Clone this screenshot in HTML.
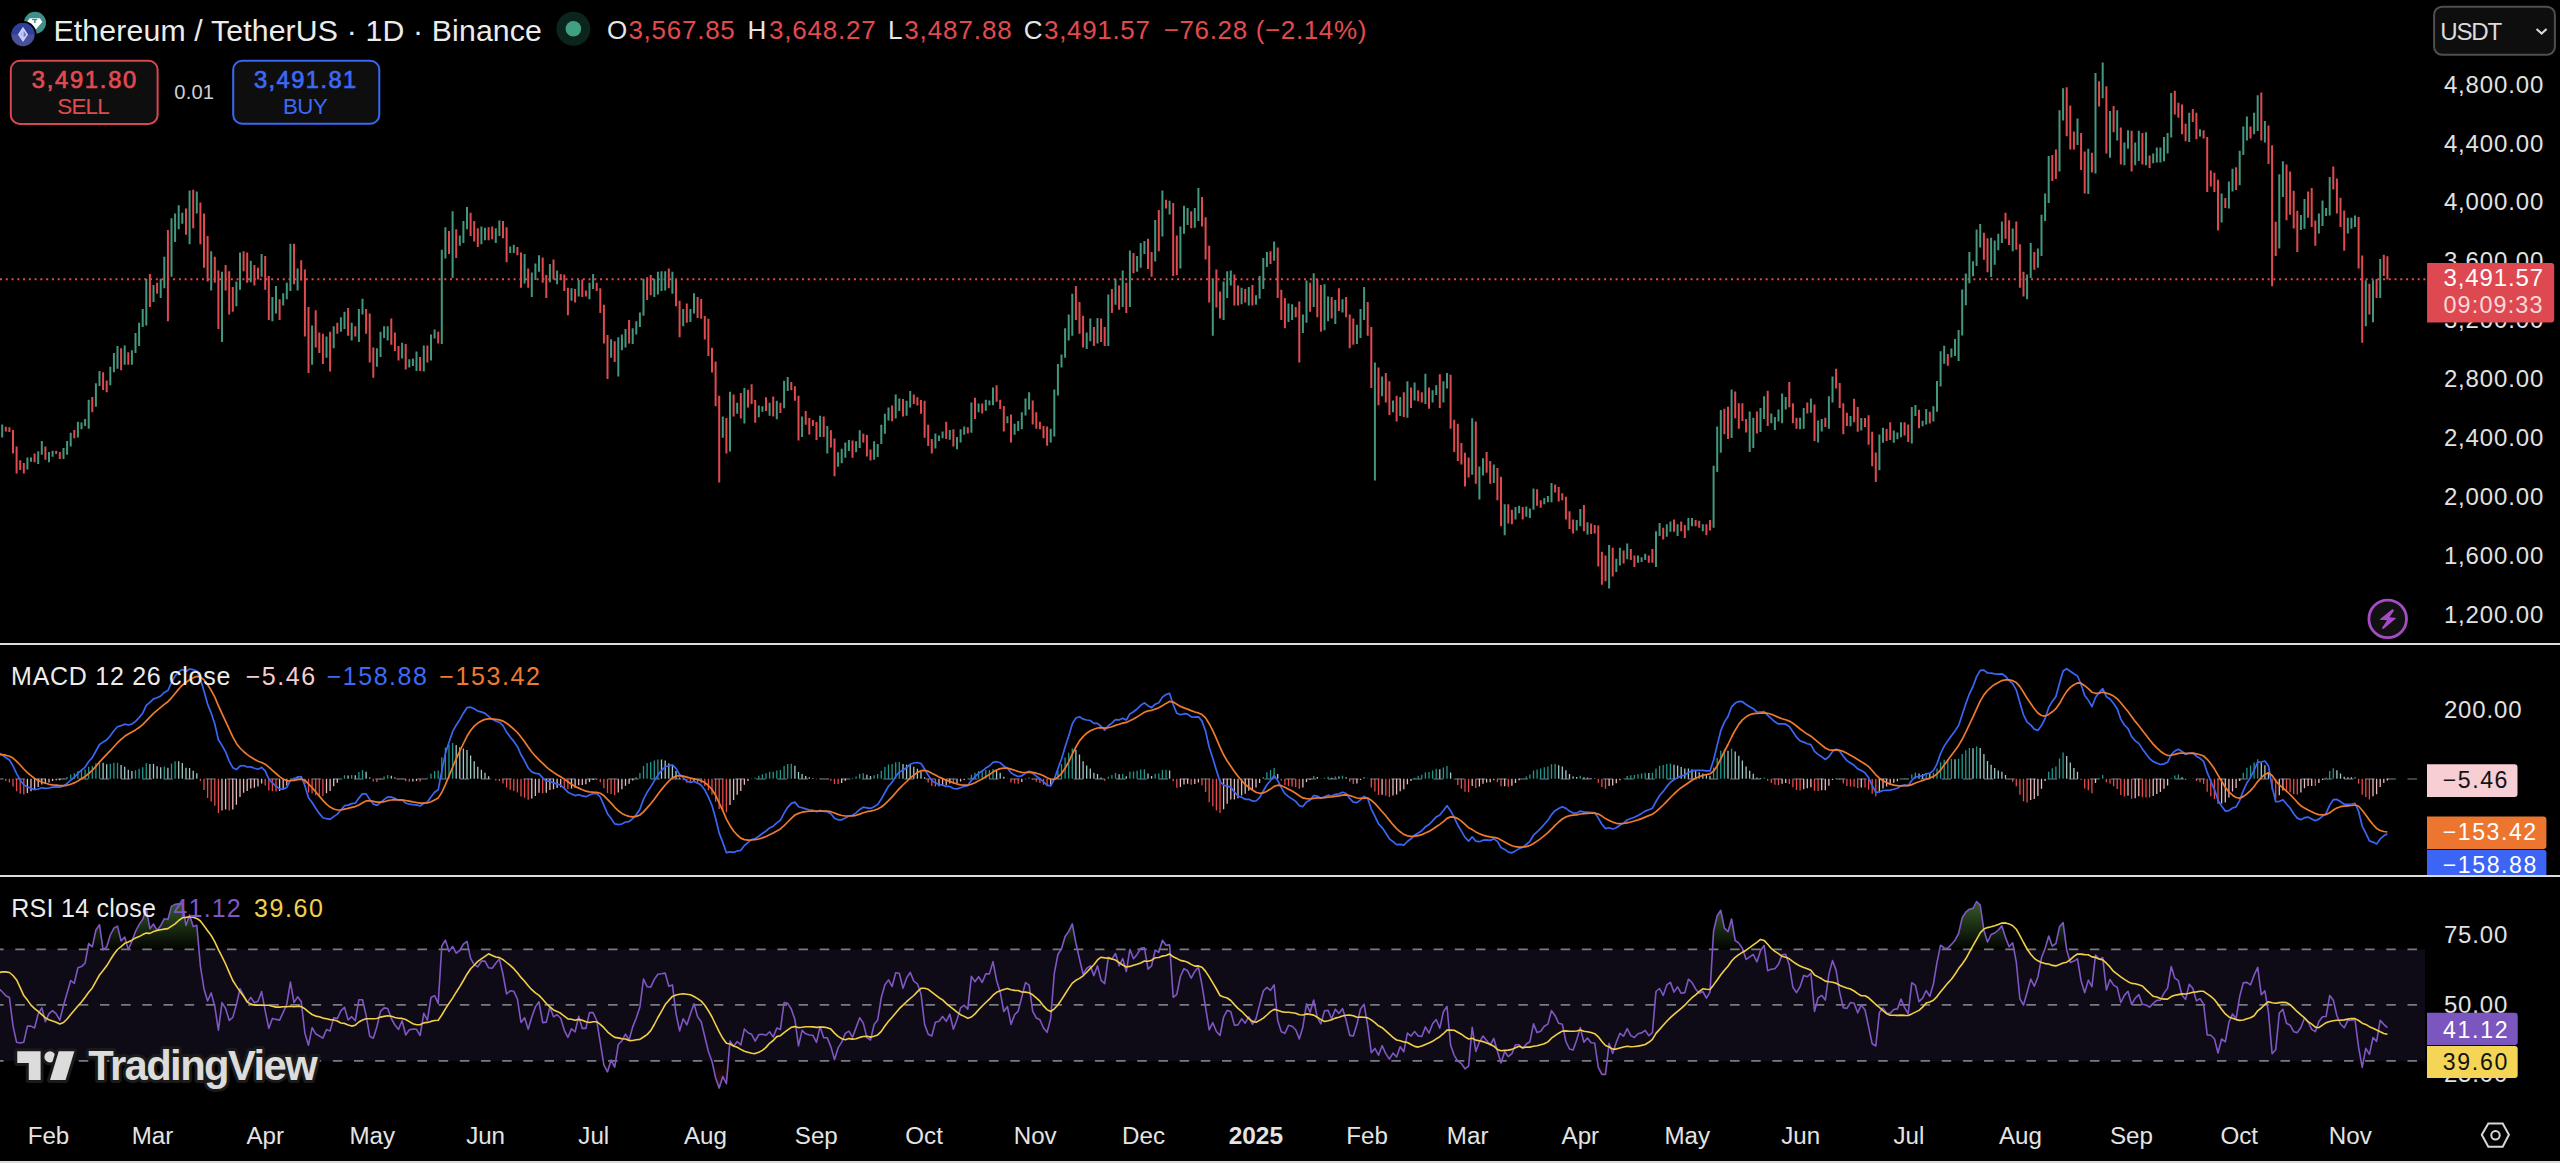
<!DOCTYPE html>
<html><head><meta charset="utf-8">
<style>
*{margin:0;padding:0}
html,body{width:2560px;height:1163px;background:#000;overflow:hidden}
svg{position:absolute;left:0;top:0;font-family:"Liberation Sans",sans-serif}
</style></head><body>
<svg width="2560" height="1163" viewBox="0 0 2560 1163">
<defs>
  <linearGradient id="gOB" x1="0" y1="865.5" x2="0" y2="949.4" gradientUnits="userSpaceOnUse">
    <stop offset="0" stop-color="#62a848" stop-opacity="1"/>
    <stop offset="1" stop-color="#5a9a40" stop-opacity="0.02"/>
  </linearGradient>
  <linearGradient id="gOS" x1="0" y1="1060.9" x2="0" y2="1144.3" gradientUnits="userSpaceOnUse">
    <stop offset="0" stop-color="#e04848" stop-opacity="0.02"/>
    <stop offset="1" stop-color="#e04848" stop-opacity="0.75"/>
  </linearGradient>
</defs>
  <!-- RSI band -->
  <rect x="0" y="949.4" width="2425" height="111.5" fill="#0e0a16"/>
  <path d="M2.2,949.1 L2.2,949.1 L5.8,949.1 L9.4,949.1 L13.0,949.1 L16.6,949.1 L20.2,949.1 L23.8,949.1 L27.4,949.1 L31.0,949.1 L34.6,949.1 L38.2,949.1 L41.8,949.1 L45.4,949.1 L49.0,949.1 L52.6,949.1 L56.2,949.1 L59.8,949.1 L63.5,949.1 L67.1,949.1 L70.7,949.1 L74.3,949.1 L77.9,949.1 L81.5,949.1 L85.1,949.1 L88.7,943.5 L92.3,946.8 L95.9,930.0 L99.5,924.7 L103.1,949.1 L106.7,946.9 L110.3,935.0 L113.9,928.1 L117.5,926.1 L121.1,940.9 L124.7,937.0 L128.3,949.1 L131.9,941.2 L135.5,931.5 L139.1,924.6 L142.7,919.4 L146.3,908.9 L149.9,928.8 L153.5,924.1 L157.1,930.4 L160.7,925.6 L164.3,918.7 L167.9,919.5 L171.5,906.1 L175.1,904.4 L178.7,903.9 L182.3,903.9 L186.0,925.4 L189.6,914.9 L193.2,926.5 L196.8,925.3 L200.4,949.1 L204.0,949.1 L207.6,949.1 L211.2,949.1 L214.8,949.1 L218.4,949.1 L222.0,949.1 L225.6,949.1 L229.2,949.1 L232.8,949.1 L236.4,949.1 L240.0,949.1 L243.6,949.1 L247.2,949.1 L250.8,949.1 L254.4,949.1 L258.0,949.1 L261.6,949.1 L265.2,949.1 L268.8,949.1 L272.4,949.1 L276.0,949.1 L279.6,949.1 L283.2,949.1 L286.8,949.1 L290.4,949.1 L294.0,949.1 L297.6,949.1 L301.2,949.1 L304.9,949.1 L308.5,949.1 L312.1,949.1 L315.7,949.1 L319.3,949.1 L322.9,949.1 L326.5,949.1 L330.1,949.1 L333.7,949.1 L337.3,949.1 L340.9,949.1 L344.5,949.1 L348.1,949.1 L351.7,949.1 L355.3,949.1 L358.9,949.1 L362.5,949.1 L366.1,949.1 L369.7,949.1 L373.3,949.1 L376.9,949.1 L380.5,949.1 L384.1,949.1 L387.7,949.1 L391.3,949.1 L394.9,949.1 L398.5,949.1 L402.1,949.1 L405.7,949.1 L409.3,949.1 L412.9,949.1 L416.5,949.1 L420.1,949.1 L423.8,949.1 L427.4,949.1 L431.0,949.1 L434.6,949.1 L438.2,949.1 L441.8,946.0 L445.4,940.2 L449.0,949.1 L452.6,946.5 L456.2,949.1 L459.8,949.1 L463.4,944.1 L467.0,941.4 L470.6,949.1 L474.2,949.1 L477.8,949.1 L481.4,949.1 L485.0,949.1 L488.6,949.1 L492.2,949.1 L495.8,949.1 L499.4,949.1 L503.0,949.1 L506.6,949.1 L510.2,949.1 L513.8,949.1 L517.4,949.1 L521.0,949.1 L524.6,949.1 L528.2,949.1 L531.8,949.1 L535.4,949.1 L539.0,949.1 L542.7,949.1 L546.3,949.1 L549.9,949.1 L553.5,949.1 L557.1,949.1 L560.7,949.1 L564.3,949.1 L567.9,949.1 L571.5,949.1 L575.1,949.1 L578.7,949.1 L582.3,949.1 L585.9,949.1 L589.5,949.1 L593.1,949.1 L596.7,949.1 L600.3,949.1 L603.9,949.1 L607.5,949.1 L611.1,949.1 L614.7,949.1 L618.3,949.1 L621.9,949.1 L625.5,949.1 L629.1,949.1 L632.7,949.1 L636.3,949.1 L639.9,949.1 L643.5,949.1 L647.1,949.1 L650.7,949.1 L654.3,949.1 L657.9,949.1 L661.5,949.1 L665.2,949.1 L668.8,949.1 L672.4,949.1 L676.0,949.1 L679.6,949.1 L683.2,949.1 L686.8,949.1 L690.4,949.1 L694.0,949.1 L697.6,949.1 L701.2,949.1 L704.8,949.1 L708.4,949.1 L712.0,949.1 L715.6,949.1 L719.2,949.1 L722.8,949.1 L726.4,949.1 L730.0,949.1 L733.6,949.1 L737.2,949.1 L740.8,949.1 L744.4,949.1 L748.0,949.1 L751.6,949.1 L755.2,949.1 L758.8,949.1 L762.4,949.1 L766.0,949.1 L769.6,949.1 L773.2,949.1 L776.8,949.1 L780.4,949.1 L784.1,949.1 L787.7,949.1 L791.3,949.1 L794.9,949.1 L798.5,949.1 L802.1,949.1 L805.7,949.1 L809.3,949.1 L812.9,949.1 L816.5,949.1 L820.1,949.1 L823.7,949.1 L827.3,949.1 L830.9,949.1 L834.5,949.1 L838.1,949.1 L841.7,949.1 L845.3,949.1 L848.9,949.1 L852.5,949.1 L856.1,949.1 L859.7,949.1 L863.3,949.1 L866.9,949.1 L870.5,949.1 L874.1,949.1 L877.7,949.1 L881.3,949.1 L884.9,949.1 L888.5,949.1 L892.1,949.1 L895.7,949.1 L899.3,949.1 L903.0,949.1 L906.6,949.1 L910.2,949.1 L913.8,949.1 L917.4,949.1 L921.0,949.1 L924.6,949.1 L928.2,949.1 L931.8,949.1 L935.4,949.1 L939.0,949.1 L942.6,949.1 L946.2,949.1 L949.8,949.1 L953.4,949.1 L957.0,949.1 L960.6,949.1 L964.2,949.1 L967.8,949.1 L971.4,949.1 L975.0,949.1 L978.6,949.1 L982.2,949.1 L985.8,949.1 L989.4,949.1 L993.0,949.1 L996.6,949.1 L1000.2,949.1 L1003.8,949.1 L1007.4,949.1 L1011.0,949.1 L1014.6,949.1 L1018.2,949.1 L1021.8,949.1 L1025.5,949.1 L1029.1,949.1 L1032.7,949.1 L1036.3,949.1 L1039.9,949.1 L1043.5,949.1 L1047.1,949.1 L1050.7,949.1 L1054.3,949.1 L1057.9,949.1 L1061.5,948.7 L1065.1,936.5 L1068.7,931.4 L1072.3,923.9 L1075.9,943.2 L1079.5,949.1 L1083.1,949.1 L1086.7,949.1 L1090.3,949.1 L1093.9,949.1 L1097.5,949.1 L1101.1,949.1 L1104.7,949.1 L1108.3,949.1 L1111.9,949.1 L1115.5,949.1 L1119.1,949.1 L1122.7,949.1 L1126.3,949.1 L1129.9,949.1 L1133.5,949.1 L1137.1,949.1 L1140.7,948.4 L1144.4,947.7 L1148.0,949.1 L1151.6,949.1 L1155.2,949.1 L1158.8,949.1 L1162.4,940.2 L1166.0,945.2 L1169.6,944.9 L1173.2,949.1 L1176.8,949.1 L1180.4,949.1 L1184.0,949.1 L1187.6,949.1 L1191.2,949.1 L1194.8,949.1 L1198.4,949.1 L1202.0,949.1 L1205.6,949.1 L1209.2,949.1 L1212.8,949.1 L1216.4,949.1 L1220.0,949.1 L1223.6,949.1 L1227.2,949.1 L1230.8,949.1 L1234.4,949.1 L1238.0,949.1 L1241.6,949.1 L1245.2,949.1 L1248.8,949.1 L1252.4,949.1 L1256.0,949.1 L1259.6,949.1 L1263.3,949.1 L1266.9,949.1 L1270.5,949.1 L1274.1,949.1 L1277.7,949.1 L1281.3,949.1 L1284.9,949.1 L1288.5,949.1 L1292.1,949.1 L1295.7,949.1 L1299.3,949.1 L1302.9,949.1 L1306.5,949.1 L1310.1,949.1 L1313.7,949.1 L1317.3,949.1 L1320.9,949.1 L1324.5,949.1 L1328.1,949.1 L1331.7,949.1 L1335.3,949.1 L1338.9,949.1 L1342.5,949.1 L1346.1,949.1 L1349.7,949.1 L1353.3,949.1 L1356.9,949.1 L1360.5,949.1 L1364.1,949.1 L1367.7,949.1 L1371.3,949.1 L1374.9,949.1 L1378.5,949.1 L1382.1,949.1 L1385.8,949.1 L1389.4,949.1 L1393.0,949.1 L1396.6,949.1 L1400.2,949.1 L1403.8,949.1 L1407.4,949.1 L1411.0,949.1 L1414.6,949.1 L1418.2,949.1 L1421.8,949.1 L1425.4,949.1 L1429.0,949.1 L1432.6,949.1 L1436.2,949.1 L1439.8,949.1 L1443.4,949.1 L1447.0,949.1 L1450.6,949.1 L1454.2,949.1 L1457.8,949.1 L1461.4,949.1 L1465.0,949.1 L1468.6,949.1 L1472.2,949.1 L1475.8,949.1 L1479.4,949.1 L1483.0,949.1 L1486.6,949.1 L1490.2,949.1 L1493.8,949.1 L1497.4,949.1 L1501.0,949.1 L1504.7,949.1 L1508.3,949.1 L1511.9,949.1 L1515.5,949.1 L1519.1,949.1 L1522.7,949.1 L1526.3,949.1 L1529.9,949.1 L1533.5,949.1 L1537.1,949.1 L1540.7,949.1 L1544.3,949.1 L1547.9,949.1 L1551.5,949.1 L1555.1,949.1 L1558.7,949.1 L1562.3,949.1 L1565.9,949.1 L1569.5,949.1 L1573.1,949.1 L1576.7,949.1 L1580.3,949.1 L1583.9,949.1 L1587.5,949.1 L1591.1,949.1 L1594.7,949.1 L1598.3,949.1 L1601.9,949.1 L1605.5,949.1 L1609.1,949.1 L1612.7,949.1 L1616.3,949.1 L1619.9,949.1 L1623.6,949.1 L1627.2,949.1 L1630.8,949.1 L1634.4,949.1 L1638.0,949.1 L1641.6,949.1 L1645.2,949.1 L1648.8,949.1 L1652.4,949.1 L1656.0,949.1 L1659.6,949.1 L1663.2,949.1 L1666.8,949.1 L1670.4,949.1 L1674.0,949.1 L1677.6,949.1 L1681.2,949.1 L1684.8,949.1 L1688.4,949.1 L1692.0,949.1 L1695.6,949.1 L1699.2,949.1 L1702.8,949.1 L1706.4,949.1 L1710.0,949.1 L1713.6,931.0 L1717.2,915.8 L1720.8,910.3 L1724.4,928.1 L1728.0,931.7 L1731.6,919.0 L1735.2,940.5 L1738.8,943.1 L1742.4,948.2 L1746.1,949.1 L1749.7,949.1 L1753.3,949.1 L1756.9,949.1 L1760.5,949.1 L1764.1,945.4 L1767.7,949.1 L1771.3,949.1 L1774.9,949.1 L1778.5,949.1 L1782.1,949.1 L1785.7,949.1 L1789.3,949.1 L1792.9,949.1 L1796.5,949.1 L1800.1,949.1 L1803.7,949.1 L1807.3,949.1 L1810.9,949.1 L1814.5,949.1 L1818.1,949.1 L1821.7,949.1 L1825.3,949.1 L1828.9,949.1 L1832.5,949.1 L1836.1,949.1 L1839.7,949.1 L1843.3,949.1 L1846.9,949.1 L1850.5,949.1 L1854.1,949.1 L1857.7,949.1 L1861.3,949.1 L1865.0,949.1 L1868.6,949.1 L1872.2,949.1 L1875.8,949.1 L1879.4,949.1 L1883.0,949.1 L1886.6,949.1 L1890.2,949.1 L1893.8,949.1 L1897.4,949.1 L1901.0,949.1 L1904.6,949.1 L1908.2,949.1 L1911.8,949.1 L1915.4,949.1 L1919.0,949.1 L1922.6,949.1 L1926.2,949.1 L1929.8,949.1 L1933.4,949.1 L1937.0,949.1 L1940.6,945.2 L1944.2,948.0 L1947.8,948.3 L1951.4,944.4 L1955.0,940.2 L1958.6,933.5 L1962.2,917.7 L1965.8,912.2 L1969.4,909.2 L1973.0,908.4 L1976.6,901.5 L1980.2,905.1 L1983.9,930.2 L1987.5,942.0 L1991.1,934.5 L1994.7,933.0 L1998.3,930.0 L2001.9,925.9 L2005.5,937.4 L2009.1,946.7 L2012.7,942.8 L2016.3,949.1 L2019.9,949.1 L2023.5,949.1 L2027.1,949.1 L2030.7,949.1 L2034.3,949.1 L2037.9,949.1 L2041.5,949.1 L2045.1,948.5 L2048.7,936.0 L2052.3,946.2 L2055.9,943.5 L2059.5,926.7 L2063.1,922.6 L2066.7,949.1 L2070.3,949.1 L2073.9,949.1 L2077.5,949.1 L2081.1,949.1 L2084.7,949.1 L2088.3,949.1 L2091.9,949.1 L2095.5,949.1 L2099.1,949.1 L2102.7,949.1 L2106.4,949.1 L2110.0,949.1 L2113.6,949.1 L2117.2,949.1 L2120.8,949.1 L2124.4,949.1 L2128.0,949.1 L2131.6,949.1 L2135.2,949.1 L2138.8,949.1 L2142.4,949.1 L2146.0,949.1 L2149.6,949.1 L2153.2,949.1 L2156.8,949.1 L2160.4,949.1 L2164.0,949.1 L2167.6,949.1 L2171.2,949.1 L2174.8,949.1 L2178.4,949.1 L2182.0,949.1 L2185.6,949.1 L2189.2,949.1 L2192.8,949.1 L2196.4,949.1 L2200.0,949.1 L2203.6,949.1 L2207.2,949.1 L2210.8,949.1 L2214.4,949.1 L2218.0,949.1 L2221.6,949.1 L2225.3,949.1 L2228.9,949.1 L2232.5,949.1 L2236.1,949.1 L2239.7,949.1 L2243.3,949.1 L2246.9,949.1 L2250.5,949.1 L2254.1,949.1 L2257.7,949.1 L2261.3,949.1 L2264.9,949.1 L2268.5,949.1 L2272.1,949.1 L2275.7,949.1 L2279.3,949.1 L2282.9,949.1 L2286.5,949.1 L2290.1,949.1 L2293.7,949.1 L2297.3,949.1 L2300.9,949.1 L2304.5,949.1 L2308.1,949.1 L2311.7,949.1 L2315.3,949.1 L2318.9,949.1 L2322.5,949.1 L2326.1,949.1 L2329.7,949.1 L2333.3,949.1 L2336.9,949.1 L2340.5,949.1 L2344.2,949.1 L2347.8,949.1 L2351.4,949.1 L2355.0,949.1 L2358.6,949.1 L2362.2,949.1 L2365.8,949.1 L2369.4,949.1 L2373.0,949.1 L2376.6,949.1 L2380.2,949.1 L2383.8,949.1 L2387.4,949.1 L2387.4,949.1 Z" fill="url(#gOB)"/><path d="M2.2,1060.7 L2.2,1060.7 L5.8,1060.7 L9.4,1060.7 L13.0,1060.7 L16.6,1060.7 L20.2,1060.7 L23.8,1060.7 L27.4,1060.7 L31.0,1060.7 L34.6,1060.7 L38.2,1060.7 L41.8,1060.7 L45.4,1060.7 L49.0,1060.7 L52.6,1060.7 L56.2,1060.7 L59.8,1060.7 L63.5,1060.7 L67.1,1060.7 L70.7,1060.7 L74.3,1060.7 L77.9,1060.7 L81.5,1060.7 L85.1,1060.7 L88.7,1060.7 L92.3,1060.7 L95.9,1060.7 L99.5,1060.7 L103.1,1060.7 L106.7,1060.7 L110.3,1060.7 L113.9,1060.7 L117.5,1060.7 L121.1,1060.7 L124.7,1060.7 L128.3,1060.7 L131.9,1060.7 L135.5,1060.7 L139.1,1060.7 L142.7,1060.7 L146.3,1060.7 L149.9,1060.7 L153.5,1060.7 L157.1,1060.7 L160.7,1060.7 L164.3,1060.7 L167.9,1060.7 L171.5,1060.7 L175.1,1060.7 L178.7,1060.7 L182.3,1060.7 L186.0,1060.7 L189.6,1060.7 L193.2,1060.7 L196.8,1060.7 L200.4,1060.7 L204.0,1060.7 L207.6,1060.7 L211.2,1060.7 L214.8,1060.7 L218.4,1060.7 L222.0,1060.7 L225.6,1060.7 L229.2,1060.7 L232.8,1060.7 L236.4,1060.7 L240.0,1060.7 L243.6,1060.7 L247.2,1060.7 L250.8,1060.7 L254.4,1060.7 L258.0,1060.7 L261.6,1060.7 L265.2,1060.7 L268.8,1060.7 L272.4,1060.7 L276.0,1060.7 L279.6,1060.7 L283.2,1060.7 L286.8,1060.7 L290.4,1060.7 L294.0,1060.7 L297.6,1060.7 L301.2,1060.7 L304.9,1060.7 L308.5,1060.7 L312.1,1060.7 L315.7,1060.7 L319.3,1060.7 L322.9,1060.7 L326.5,1060.7 L330.1,1060.7 L333.7,1060.7 L337.3,1060.7 L340.9,1060.7 L344.5,1060.7 L348.1,1060.7 L351.7,1060.7 L355.3,1060.7 L358.9,1060.7 L362.5,1060.7 L366.1,1060.7 L369.7,1060.7 L373.3,1060.7 L376.9,1060.7 L380.5,1060.7 L384.1,1060.7 L387.7,1060.7 L391.3,1060.7 L394.9,1060.7 L398.5,1060.7 L402.1,1060.7 L405.7,1060.7 L409.3,1060.7 L412.9,1060.7 L416.5,1060.7 L420.1,1060.7 L423.8,1060.7 L427.4,1060.7 L431.0,1060.7 L434.6,1060.7 L438.2,1060.7 L441.8,1060.7 L445.4,1060.7 L449.0,1060.7 L452.6,1060.7 L456.2,1060.7 L459.8,1060.7 L463.4,1060.7 L467.0,1060.7 L470.6,1060.7 L474.2,1060.7 L477.8,1060.7 L481.4,1060.7 L485.0,1060.7 L488.6,1060.7 L492.2,1060.7 L495.8,1060.7 L499.4,1060.7 L503.0,1060.7 L506.6,1060.7 L510.2,1060.7 L513.8,1060.7 L517.4,1060.7 L521.0,1060.7 L524.6,1060.7 L528.2,1060.7 L531.8,1060.7 L535.4,1060.7 L539.0,1060.7 L542.7,1060.7 L546.3,1060.7 L549.9,1060.7 L553.5,1060.7 L557.1,1060.7 L560.7,1060.7 L564.3,1060.7 L567.9,1060.7 L571.5,1060.7 L575.1,1060.7 L578.7,1060.7 L582.3,1060.7 L585.9,1060.7 L589.5,1060.7 L593.1,1060.7 L596.7,1060.7 L600.3,1060.7 L603.9,1065.2 L607.5,1071.9 L611.1,1060.7 L614.7,1067.2 L618.3,1060.7 L621.9,1060.7 L625.5,1060.7 L629.1,1060.7 L632.7,1060.7 L636.3,1060.7 L639.9,1060.7 L643.5,1060.7 L647.1,1060.7 L650.7,1060.7 L654.3,1060.7 L657.9,1060.7 L661.5,1060.7 L665.2,1060.7 L668.8,1060.7 L672.4,1060.7 L676.0,1060.7 L679.6,1060.7 L683.2,1060.7 L686.8,1060.7 L690.4,1060.7 L694.0,1060.7 L697.6,1060.7 L701.2,1060.7 L704.8,1060.7 L708.4,1060.7 L712.0,1061.5 L715.6,1077.9 L719.2,1088.1 L722.8,1076.5 L726.4,1083.7 L730.0,1060.7 L733.6,1060.7 L737.2,1060.7 L740.8,1060.7 L744.4,1060.7 L748.0,1060.7 L751.6,1060.7 L755.2,1060.7 L758.8,1060.7 L762.4,1060.7 L766.0,1060.7 L769.6,1060.7 L773.2,1060.7 L776.8,1060.7 L780.4,1060.7 L784.1,1060.7 L787.7,1060.7 L791.3,1060.7 L794.9,1060.7 L798.5,1060.7 L802.1,1060.7 L805.7,1060.7 L809.3,1060.7 L812.9,1060.7 L816.5,1060.7 L820.1,1060.7 L823.7,1060.7 L827.3,1060.7 L830.9,1060.7 L834.5,1060.7 L838.1,1060.7 L841.7,1060.7 L845.3,1060.7 L848.9,1060.7 L852.5,1060.7 L856.1,1060.7 L859.7,1060.7 L863.3,1060.7 L866.9,1060.7 L870.5,1060.7 L874.1,1060.7 L877.7,1060.7 L881.3,1060.7 L884.9,1060.7 L888.5,1060.7 L892.1,1060.7 L895.7,1060.7 L899.3,1060.7 L903.0,1060.7 L906.6,1060.7 L910.2,1060.7 L913.8,1060.7 L917.4,1060.7 L921.0,1060.7 L924.6,1060.7 L928.2,1060.7 L931.8,1060.7 L935.4,1060.7 L939.0,1060.7 L942.6,1060.7 L946.2,1060.7 L949.8,1060.7 L953.4,1060.7 L957.0,1060.7 L960.6,1060.7 L964.2,1060.7 L967.8,1060.7 L971.4,1060.7 L975.0,1060.7 L978.6,1060.7 L982.2,1060.7 L985.8,1060.7 L989.4,1060.7 L993.0,1060.7 L996.6,1060.7 L1000.2,1060.7 L1003.8,1060.7 L1007.4,1060.7 L1011.0,1060.7 L1014.6,1060.7 L1018.2,1060.7 L1021.8,1060.7 L1025.5,1060.7 L1029.1,1060.7 L1032.7,1060.7 L1036.3,1060.7 L1039.9,1060.7 L1043.5,1060.7 L1047.1,1060.7 L1050.7,1060.7 L1054.3,1060.7 L1057.9,1060.7 L1061.5,1060.7 L1065.1,1060.7 L1068.7,1060.7 L1072.3,1060.7 L1075.9,1060.7 L1079.5,1060.7 L1083.1,1060.7 L1086.7,1060.7 L1090.3,1060.7 L1093.9,1060.7 L1097.5,1060.7 L1101.1,1060.7 L1104.7,1060.7 L1108.3,1060.7 L1111.9,1060.7 L1115.5,1060.7 L1119.1,1060.7 L1122.7,1060.7 L1126.3,1060.7 L1129.9,1060.7 L1133.5,1060.7 L1137.1,1060.7 L1140.7,1060.7 L1144.4,1060.7 L1148.0,1060.7 L1151.6,1060.7 L1155.2,1060.7 L1158.8,1060.7 L1162.4,1060.7 L1166.0,1060.7 L1169.6,1060.7 L1173.2,1060.7 L1176.8,1060.7 L1180.4,1060.7 L1184.0,1060.7 L1187.6,1060.7 L1191.2,1060.7 L1194.8,1060.7 L1198.4,1060.7 L1202.0,1060.7 L1205.6,1060.7 L1209.2,1060.7 L1212.8,1060.7 L1216.4,1060.7 L1220.0,1060.7 L1223.6,1060.7 L1227.2,1060.7 L1230.8,1060.7 L1234.4,1060.7 L1238.0,1060.7 L1241.6,1060.7 L1245.2,1060.7 L1248.8,1060.7 L1252.4,1060.7 L1256.0,1060.7 L1259.6,1060.7 L1263.3,1060.7 L1266.9,1060.7 L1270.5,1060.7 L1274.1,1060.7 L1277.7,1060.7 L1281.3,1060.7 L1284.9,1060.7 L1288.5,1060.7 L1292.1,1060.7 L1295.7,1060.7 L1299.3,1060.7 L1302.9,1060.7 L1306.5,1060.7 L1310.1,1060.7 L1313.7,1060.7 L1317.3,1060.7 L1320.9,1060.7 L1324.5,1060.7 L1328.1,1060.7 L1331.7,1060.7 L1335.3,1060.7 L1338.9,1060.7 L1342.5,1060.7 L1346.1,1060.7 L1349.7,1060.7 L1353.3,1060.7 L1356.9,1060.7 L1360.5,1060.7 L1364.1,1060.7 L1367.7,1060.7 L1371.3,1060.7 L1374.9,1060.7 L1378.5,1060.7 L1382.1,1060.7 L1385.8,1060.7 L1389.4,1060.7 L1393.0,1060.7 L1396.6,1060.7 L1400.2,1060.7 L1403.8,1060.7 L1407.4,1060.7 L1411.0,1060.7 L1414.6,1060.7 L1418.2,1060.7 L1421.8,1060.7 L1425.4,1060.7 L1429.0,1060.7 L1432.6,1060.7 L1436.2,1060.7 L1439.8,1060.7 L1443.4,1060.7 L1447.0,1060.7 L1450.6,1060.7 L1454.2,1060.7 L1457.8,1061.1 L1461.4,1063.6 L1465.0,1068.8 L1468.6,1066.1 L1472.2,1060.7 L1475.8,1060.7 L1479.4,1060.7 L1483.0,1060.7 L1486.6,1060.7 L1490.2,1060.7 L1493.8,1060.7 L1497.4,1060.7 L1501.0,1062.9 L1504.7,1060.7 L1508.3,1060.7 L1511.9,1060.7 L1515.5,1060.7 L1519.1,1060.7 L1522.7,1060.7 L1526.3,1060.7 L1529.9,1060.7 L1533.5,1060.7 L1537.1,1060.7 L1540.7,1060.7 L1544.3,1060.7 L1547.9,1060.7 L1551.5,1060.7 L1555.1,1060.7 L1558.7,1060.7 L1562.3,1060.7 L1565.9,1060.7 L1569.5,1060.7 L1573.1,1060.7 L1576.7,1060.7 L1580.3,1060.7 L1583.9,1060.7 L1587.5,1060.7 L1591.1,1060.7 L1594.7,1060.7 L1598.3,1067.4 L1601.9,1074.4 L1605.5,1074.4 L1609.1,1060.7 L1612.7,1060.7 L1616.3,1060.7 L1619.9,1060.7 L1623.6,1060.7 L1627.2,1060.7 L1630.8,1060.7 L1634.4,1060.7 L1638.0,1060.7 L1641.6,1060.7 L1645.2,1060.7 L1648.8,1060.7 L1652.4,1060.7 L1656.0,1060.7 L1659.6,1060.7 L1663.2,1060.7 L1666.8,1060.7 L1670.4,1060.7 L1674.0,1060.7 L1677.6,1060.7 L1681.2,1060.7 L1684.8,1060.7 L1688.4,1060.7 L1692.0,1060.7 L1695.6,1060.7 L1699.2,1060.7 L1702.8,1060.7 L1706.4,1060.7 L1710.0,1060.7 L1713.6,1060.7 L1717.2,1060.7 L1720.8,1060.7 L1724.4,1060.7 L1728.0,1060.7 L1731.6,1060.7 L1735.2,1060.7 L1738.8,1060.7 L1742.4,1060.7 L1746.1,1060.7 L1749.7,1060.7 L1753.3,1060.7 L1756.9,1060.7 L1760.5,1060.7 L1764.1,1060.7 L1767.7,1060.7 L1771.3,1060.7 L1774.9,1060.7 L1778.5,1060.7 L1782.1,1060.7 L1785.7,1060.7 L1789.3,1060.7 L1792.9,1060.7 L1796.5,1060.7 L1800.1,1060.7 L1803.7,1060.7 L1807.3,1060.7 L1810.9,1060.7 L1814.5,1060.7 L1818.1,1060.7 L1821.7,1060.7 L1825.3,1060.7 L1828.9,1060.7 L1832.5,1060.7 L1836.1,1060.7 L1839.7,1060.7 L1843.3,1060.7 L1846.9,1060.7 L1850.5,1060.7 L1854.1,1060.7 L1857.7,1060.7 L1861.3,1060.7 L1865.0,1060.7 L1868.6,1060.7 L1872.2,1060.7 L1875.8,1060.7 L1879.4,1060.7 L1883.0,1060.7 L1886.6,1060.7 L1890.2,1060.7 L1893.8,1060.7 L1897.4,1060.7 L1901.0,1060.7 L1904.6,1060.7 L1908.2,1060.7 L1911.8,1060.7 L1915.4,1060.7 L1919.0,1060.7 L1922.6,1060.7 L1926.2,1060.7 L1929.8,1060.7 L1933.4,1060.7 L1937.0,1060.7 L1940.6,1060.7 L1944.2,1060.7 L1947.8,1060.7 L1951.4,1060.7 L1955.0,1060.7 L1958.6,1060.7 L1962.2,1060.7 L1965.8,1060.7 L1969.4,1060.7 L1973.0,1060.7 L1976.6,1060.7 L1980.2,1060.7 L1983.9,1060.7 L1987.5,1060.7 L1991.1,1060.7 L1994.7,1060.7 L1998.3,1060.7 L2001.9,1060.7 L2005.5,1060.7 L2009.1,1060.7 L2012.7,1060.7 L2016.3,1060.7 L2019.9,1060.7 L2023.5,1060.7 L2027.1,1060.7 L2030.7,1060.7 L2034.3,1060.7 L2037.9,1060.7 L2041.5,1060.7 L2045.1,1060.7 L2048.7,1060.7 L2052.3,1060.7 L2055.9,1060.7 L2059.5,1060.7 L2063.1,1060.7 L2066.7,1060.7 L2070.3,1060.7 L2073.9,1060.7 L2077.5,1060.7 L2081.1,1060.7 L2084.7,1060.7 L2088.3,1060.7 L2091.9,1060.7 L2095.5,1060.7 L2099.1,1060.7 L2102.7,1060.7 L2106.4,1060.7 L2110.0,1060.7 L2113.6,1060.7 L2117.2,1060.7 L2120.8,1060.7 L2124.4,1060.7 L2128.0,1060.7 L2131.6,1060.7 L2135.2,1060.7 L2138.8,1060.7 L2142.4,1060.7 L2146.0,1060.7 L2149.6,1060.7 L2153.2,1060.7 L2156.8,1060.7 L2160.4,1060.7 L2164.0,1060.7 L2167.6,1060.7 L2171.2,1060.7 L2174.8,1060.7 L2178.4,1060.7 L2182.0,1060.7 L2185.6,1060.7 L2189.2,1060.7 L2192.8,1060.7 L2196.4,1060.7 L2200.0,1060.7 L2203.6,1060.7 L2207.2,1060.7 L2210.8,1060.7 L2214.4,1060.7 L2218.0,1060.7 L2221.6,1060.7 L2225.3,1060.7 L2228.9,1060.7 L2232.5,1060.7 L2236.1,1060.7 L2239.7,1060.7 L2243.3,1060.7 L2246.9,1060.7 L2250.5,1060.7 L2254.1,1060.7 L2257.7,1060.7 L2261.3,1060.7 L2264.9,1060.7 L2268.5,1060.7 L2272.1,1060.7 L2275.7,1060.7 L2279.3,1060.7 L2282.9,1060.7 L2286.5,1060.7 L2290.1,1060.7 L2293.7,1060.7 L2297.3,1060.7 L2300.9,1060.7 L2304.5,1060.7 L2308.1,1060.7 L2311.7,1060.7 L2315.3,1060.7 L2318.9,1060.7 L2322.5,1060.7 L2326.1,1060.7 L2329.7,1060.7 L2333.3,1060.7 L2336.9,1060.7 L2340.5,1060.7 L2344.2,1060.7 L2347.8,1060.7 L2351.4,1060.7 L2355.0,1060.7 L2358.6,1060.7 L2362.2,1067.4 L2365.8,1060.7 L2369.4,1060.7 L2373.0,1060.7 L2376.6,1060.7 L2380.2,1060.7 L2383.8,1060.7 L2387.4,1060.7 L2387.4,1060.7 Z" fill="url(#gOS)"/>
  <g stroke="#7a7a82" stroke-width="1.8" stroke-dasharray="9.5 11.67" stroke-dashoffset="5.9">
  <line x1="0" y1="949.4" x2="2425" y2="949.4"/>
  <line x1="0" y1="1004.9" x2="2425" y2="1004.9"/>
  <line x1="0" y1="1060.9" x2="2425" y2="1060.9"/>
  </g>
  <!-- price line -->
  <line x1="0" y1="279.2" x2="2427" y2="279.2" stroke="#e4494f" stroke-width="2" stroke-dasharray="2 3.77"/>
  <path d="M2.2 424.5V437.5M27.4 457.6V469.4M31.0 457.6V461.7M38.2 451.2V463.9M41.8 441.1V454.8M49.0 452.1V462.2M52.6 450.7V456.7M63.5 447.9V458.9M67.1 441.1V454.8M70.7 432.8V446.6M77.9 421.8V437.5M81.5 422.6V429.2M85.1 419.0V425.9M88.7 399.8V428.7M95.9 383.3V406.7M99.5 370.9V386.0M110.3 366.8V385.2M113.9 353.0V372.3M117.5 346.1V368.7M124.7 345.6V364.8M131.9 350.2V364.8M135.5 332.9V353.0M139.1 322.7V346.1M142.7 309.0V326.9M146.3 278.7V325.5M153.5 285.0V302.1M160.7 278.7V298.0M164.3 256.7V288.3M171.5 218.2V276.8M175.1 213.5V242.1M178.7 205.2V229.2M182.3 212.7V223.7M189.6 190.6V244.3M196.8 191.5V213.5M211.2 251.2V290.5M222.0 271.8V342.0M236.4 281.4V306.2M240.0 252.6V289.7M250.8 260.8V282.3M261.6 253.9V276.8M272.4 297.1V321.3M276.0 286.1V313.6M283.2 293.3V305.4M286.8 282.8V299.3M290.4 243.7V291.1M297.6 268.5V290.5M312.1 325.5V364.8M326.5 336.5V357.7M333.7 326.3V348.3M340.9 317.2V331.8M344.5 311.7V329.1M351.7 322.7V340.6M358.9 309.0V342.0M362.5 298.8V314.5M376.9 348.3V366.8M380.5 331.8V357.1M384.1 326.3V337.9M387.7 326.3V340.6M402.1 342.8V358.5M409.3 359.3V367.6M412.9 358.5V365.9M416.5 351.6V370.9M423.8 345.6V371.4M431.0 334.6V360.4M434.6 329.6V338.4M441.8 249.8V343.9M445.4 227.2V258.6M452.6 211.3V277.9M459.8 235.5V245.7M463.4 220.9V242.9M467.0 207.1V229.2M481.4 226.4V244.3M485.0 227.8V240.2M495.8 228.3V242.9M499.4 220.4V236.0M510.2 246.5V253.1M513.8 244.8V253.1M524.6 253.9V283.4M531.8 272.4V297.1M535.4 263.6V280.1M539.0 255.3V271.8M549.9 264.1V282.3M557.1 270.4V284.2M571.5 288.3V300.7M578.7 280.1V296.6M589.5 282.8V299.3M593.1 274.0V288.9M611.1 339.2V357.7M618.3 337.3V376.4M621.9 334.6V350.2M625.5 329.1V347.5M632.7 328.2V343.9M636.3 321.3V334.6M639.9 312.5V326.9M643.5 278.7V315.8M654.3 278.7V297.1M657.9 271.8V294.4M661.5 271.3V291.1M665.2 271.3V290.5M672.4 271.8V293.8M683.2 309.0V326.3M690.4 309.0V321.9M694.0 293.3V313.6M722.8 416.5V437.7M730.0 391.7V451.4M737.2 402.7V413.7M744.4 388.1V423.4M758.8 405.5V417.3M762.4 406.3V411.8M769.6 402.7V415.7M776.8 400.8V419.2M784.1 380.7V408.2M787.7 377.1V390.9M802.1 416.5V437.1M820.1 415.7V437.1M827.3 426.1V453.6M838.1 452.3V466.8M841.7 448.7V463.3M845.3 442.6V457.8M848.9 439.9V450.9M856.1 441.2V452.3M859.7 430.2V448.1M874.1 441.2V459.7M877.7 444.0V456.9M881.3 424.7V444.0M884.9 413.7V433.8M888.5 407.4V420.6M895.7 394.5V418.4M899.3 398.6V411.0M906.6 400.8V415.7M910.2 390.9V407.4M935.4 433.6V448.5M939.0 435.5V441.1M942.6 431.4V438.3M949.8 430.0V439.7M957.0 436.9V449.3M960.6 429.2V442.4M964.2 426.5V434.7M971.4 402.5V432.8M978.6 403.4V412.2M985.8 399.8V410.8M989.4 400.6V405.3M993.0 387.4V405.3M1007.4 416.3V423.2M1014.6 423.7V434.7M1018.2 421.0V430.9M1021.8 412.2V429.2M1025.5 398.4V415.5M1029.1 392.3V409.4M1050.7 428.7V442.4M1054.3 389.6V436.4M1057.9 364.0V395.6M1061.5 354.4V367.6M1065.1 328.2V357.7M1068.7 314.5V340.6M1072.3 293.8V335.7M1086.7 332.4V348.9M1090.3 318.6V341.2M1097.5 318.0V343.4M1108.3 294.4V346.1M1115.5 278.7V304.8M1122.7 270.4V307.0M1129.9 250.4V307.0M1137.1 255.9V271.8M1140.7 242.9V267.7M1144.4 241.0V253.9M1155.2 220.1V261.4M1162.4 190.6V236.6M1169.6 200.8V214.6M1180.4 226.4V268.5M1184.0 205.8V233.8M1187.6 208.0V225.0M1194.8 208.0V227.8M1198.4 187.9V220.9M1212.8 278.7V335.7M1223.6 281.4V320.0M1227.2 271.3V298.0M1230.8 270.4V285.6M1241.6 287.8V304.3M1248.8 287.0V305.4M1256.0 295.2V304.8M1259.6 275.9V298.8M1263.3 258.1V288.9M1266.9 252.0V266.9M1274.1 241.5V260.8M1288.5 303.5V321.9M1292.1 304.3V320.0M1302.9 314.5V332.9M1306.5 280.6V322.7M1313.7 273.2V307.0M1324.5 284.2V330.2M1328.1 296.6V321.3M1335.3 299.9V324.1M1342.5 299.3V312.5M1356.9 324.7V343.9M1360.5 309.0V337.9M1364.1 287.0V320.0M1374.9 362.6V480.4M1382.1 376.4V396.2M1393.0 400.4V412.3M1400.2 396.9V416.1M1407.4 381.2V417.8M1414.6 382.6V400.4M1425.4 373.7V404.0M1432.6 390.3V402.4M1436.2 385.3V394.9M1443.4 381.2V402.4M1447.0 372.9V388.6M1472.2 418.3V474.7M1479.4 466.5V499.5M1483.0 458.2V475.6M1493.8 464.6V483.0M1504.7 504.2V535.3M1515.5 506.9V519.6M1519.1 505.8V513.3M1526.3 506.4V516.8M1529.9 508.6V517.9M1533.5 488.5V509.7M1544.3 498.1V504.2M1547.9 495.9V502.3M1551.5 483.0V502.3M1576.7 520.1V530.6M1580.3 509.1V526.2M1587.5 522.3V534.5M1609.1 544.9V588.4M1616.3 558.7V571.9M1619.9 547.7V565.5M1627.2 543.5V559.2M1638.0 555.4V562.8M1641.6 557.3V562.0M1645.2 553.7V560.0M1656.0 531.2V566.9M1659.6 522.9V536.1M1666.8 524.3V536.7M1670.4 521.5V531.7M1677.6 524.3V536.1M1688.4 517.9V530.6M1692.0 517.9V526.2M1702.8 524.3V531.2M1713.6 465.7V527.8M1717.2 426.6V472.0M1720.8 410.1V452.7M1731.6 389.4V438.1M1749.7 411.4V451.9M1753.3 417.8V448.0M1760.5 407.9V432.1M1764.1 396.3V418.9M1771.3 413.4V423.3M1774.9 417.0V429.9M1778.5 409.5V421.6M1782.1 393.6V423.3M1785.7 396.9V409.5M1800.1 417.8V429.3M1803.7 407.9V428.8M1810.9 398.5V412.8M1818.1 420.5V442.5M1821.7 418.9V431.5M1828.9 396.3V428.8M1832.5 376.5V402.4M1850.5 416.1V426.3M1861.3 418.0V430.4M1879.4 434.5V470.3M1883.0 427.7V442.8M1893.8 430.4V442.8M1897.4 432.6V439.2M1901.0 422.2V437.3M1911.8 407.0V443.6M1915.4 405.1V416.1M1922.6 420.8V426.3M1926.2 408.9V424.4M1933.4 406.2V421.6M1937.0 380.9V411.7M1940.6 351.2V386.4M1944.2 345.7V363.8M1951.4 348.4V357.5M1955.0 339.1V356.1M1958.6 330.0V361.1M1962.2 289.5V335.5M1965.8 273.6V305.2M1969.4 252.1V283.2M1973.0 261.2V276.3M1976.6 229.5V265.9M1980.2 224.0V247.4M1991.1 237.8V276.9M1994.7 240.5V264.8M1998.3 233.7V250.2M2001.9 221.6V243.1M2012.7 228.5V251.3M2027.1 274.5V299.2M2030.7 243.1V278.0M2037.9 248.6V267.8M2041.5 214.7V256.0M2045.1 193.5V221.1M2048.7 156.1V202.9M2059.5 110.2V171.5M2063.1 88.2V120.4M2077.5 118.4V145.1M2088.3 148.7V194.1M2095.5 73.0V173.5M2102.7 62.6V98.3M2110.0 111.0V157.8M2117.2 110.2V140.4M2124.4 142.4V165.2M2128.0 130.3V148.7M2135.2 142.4V165.2M2138.8 130.8V161.1M2146.0 132.2V165.2M2153.2 153.6V163.2M2156.8 147.5V162.4M2160.4 147.5V162.4M2164.0 137.1V161.3M2167.6 132.9V153.6M2171.2 93.0V137.6M2189.2 112.8V142.0M2200.0 129.3V136.5M2221.6 193.5V222.4M2228.9 181.6V208.6M2232.5 168.7V191.5M2239.7 150.8V185.2M2243.3 126.6V154.9M2246.9 116.4V140.4M2254.1 112.8V134.3M2257.7 95.2V131.0M2264.9 121.1V142.6M2279.3 174.2V248.5M2282.9 161.3V197.0M2300.9 215.0V229.9M2304.5 199.1V228.8M2318.9 213.4V233.5M2322.5 200.4V226.0M2326.1 207.9V216.1M2329.7 177.1V215.6M2347.8 217.8V233.5M2351.4 217.8V228.8M2355.0 215.6V227.1M2365.8 280.2V326.2M2373.0 280.2V322.3M2380.2 259.1V298.1" stroke="#43977f" stroke-width="2" fill="none"/><path d="M5.8 426.7V431.4M9.4 427.3V432.0M13.0 430.0V453.4M16.6 446.6V473.5M20.2 460.3V469.9M23.8 463.1V473.5M34.6 453.4V462.2M45.4 446.6V459.8M56.2 450.7V454.0M59.8 452.1V458.9M74.3 430.0V438.3M92.3 397.0V412.2M103.1 372.3V390.1M106.7 380.5V392.3M121.1 348.3V370.3M128.3 352.2V364.8M149.9 274.0V307.0M157.1 282.8V293.8M167.9 230.0V321.3M186.0 208.5V234.7M193.2 189.8V228.3M200.4 202.5V244.3M204.0 213.5V267.7M207.6 236.0V281.4M214.8 256.7V282.8M218.4 270.4V329.1M225.6 264.9V290.5M229.2 271.3V314.5M232.8 287.0V311.7M243.6 251.2V271.3M247.2 252.6V282.8M254.4 264.9V285.6M258.0 267.7V279.5M265.2 255.9V289.7M268.8 275.9V320.0M279.6 299.3V320.0M294.0 243.7V284.2M301.2 260.3V280.6M304.9 269.6V336.5M308.5 307.0V373.1M315.7 310.3V347.5M319.3 332.4V353.0M322.9 333.7V364.0M330.1 331.8V371.4M337.3 322.7V333.7M348.1 308.1V335.7M355.3 326.3V336.5M366.1 309.0V333.7M369.7 313.6V362.6M373.3 347.5V377.8M391.3 318.6V344.7M394.9 332.4V351.1M398.5 346.1V360.4M405.7 343.9V369.5M420.1 357.1V370.9M427.4 345.6V362.6M438.2 331.8V343.4M449.0 231.1V253.9M456.2 229.2V258.1M470.6 212.7V236.0M474.2 220.9V241.5M477.8 228.3V247.1M488.6 227.2V240.2M492.2 226.4V239.3M503.0 220.9V238.2M506.6 227.2V262.2M517.4 247.1V255.3M521.0 252.6V287.8M528.2 268.5V287.8M542.7 257.5V282.8M546.3 275.1V298.0M553.5 259.4V279.5M560.7 274.0V280.1M564.3 274.6V291.1M567.9 287.8V315.3M575.1 288.9V302.6M582.3 279.5V297.1M585.9 290.5V296.6M596.7 282.8V291.1M600.3 288.3V313.1M603.9 304.8V343.4M607.5 335.1V379.1M614.7 341.2V362.1M629.1 320.0V343.4M647.1 277.3V299.9M650.7 275.1V295.2M668.8 268.5V288.3M676.0 279.5V306.2M679.6 300.7V337.3M686.8 303.5V322.7M697.6 297.1V318.0M701.2 299.0V318.8M704.8 316.0V339.4M708.4 318.8V355.9M712.0 347.7V372.5M715.6 361.4V406.3M719.2 395.8V482.5M726.4 417.9V453.6M733.6 394.5V416.5M740.8 393.1V418.4M748.0 389.8V407.4M751.6 384.3V404.1M755.2 400.0V422.8M766.0 397.2V411.0M773.2 396.4V416.5M780.4 402.7V412.9M791.3 382.1V390.3M794.9 386.2V400.8M798.5 395.8V440.4M805.7 411.0V424.7M809.3 417.9V434.4M812.9 420.1V426.1M816.5 422.0V439.9M823.7 416.5V437.1M830.9 430.2V447.6M834.5 438.5V476.2M852.5 440.4V457.8M863.3 433.8V442.6M866.9 434.9V456.4M870.5 449.5V460.5M892.1 405.5V421.2M903.0 399.1V416.5M913.8 394.5V404.1M917.4 397.2V405.5M921.0 400.0V413.7M924.6 400.8V437.7M928.2 424.7V445.9M931.8 439.1V453.4M946.2 421.8V439.1M953.4 429.2V446.6M967.8 427.3V433.6M975.0 397.8V419.0M982.2 403.4V413.5M996.6 385.2V401.7M1000.2 399.8V408.9M1003.8 406.1V431.4M1011.0 414.4V442.4M1032.7 400.6V424.5M1036.3 412.2V428.7M1039.9 421.8V429.2M1043.5 425.9V438.3M1047.1 426.5V445.7M1075.9 286.1V320.0M1079.5 302.1V333.7M1083.1 315.8V347.5M1093.9 326.9V346.1M1101.1 318.6V342.0M1104.7 326.9V346.1M1111.9 288.9V313.1M1119.1 285.6V309.8M1126.3 282.8V313.1M1133.5 253.1V273.2M1148.0 238.8V269.1M1151.6 252.0V276.8M1158.8 209.9V251.2M1166.0 199.7V208.5M1173.2 203.0V275.9M1176.8 235.5V275.1M1191.2 211.3V228.3M1202.0 197.0V226.4M1205.6 217.3V259.4M1209.2 245.7V302.6M1216.4 269.6V307.6M1220.0 291.6V318.6M1234.4 274.6V305.4M1238.0 285.6V305.4M1245.2 288.9V302.6M1252.4 285.0V305.4M1270.5 251.2V264.1M1277.7 247.6V298.0M1281.3 289.7V320.0M1284.9 298.0V328.2M1295.7 307.0V317.2M1299.3 301.5V362.6M1310.1 282.8V311.7M1317.3 278.7V317.2M1320.9 285.0V331.8M1331.7 297.1V318.6M1338.9 288.3V310.9M1346.1 297.1V317.2M1349.7 314.5V348.3M1353.3 318.6V344.7M1367.7 302.1V335.7M1371.3 326.9V387.9M1378.5 367.6V405.3M1385.8 373.1V402.5M1389.4 381.3V414.9M1396.6 395.8V421.6M1403.8 392.2V417.0M1411.0 387.5V407.9M1418.2 390.3V401.3M1421.8 392.2V402.4M1429.0 387.5V408.7M1439.8 374.3V407.9M1450.6 374.8V428.8M1454.2 419.7V451.9M1457.8 423.8V461.0M1461.4 443.1V464.6M1465.0 452.7V486.6M1468.6 457.4V477.5M1475.8 421.6V483.8M1486.6 451.9V472.8M1490.2 461.0V483.8M1497.4 467.9V500.3M1501.0 476.7V526.2M1508.3 504.2V523.4M1511.9 509.7V524.3M1522.7 506.9V519.6M1537.1 489.3V505.8M1540.7 500.3V507.8M1555.1 484.4V492.6M1558.7 487.1V501.4M1562.3 493.2V500.3M1565.9 496.8V519.6M1569.5 511.3V528.9M1573.1 519.6V533.4M1583.9 505.0V531.2M1591.1 523.4V533.9M1594.7 525.1V533.4M1598.3 525.6V566.4M1601.9 551.8V584.8M1605.5 555.4V581.2M1612.7 547.7V576.6M1623.6 550.4V563.6M1630.8 549.0V560.0M1634.4 555.4V566.9M1648.8 555.4V562.8M1652.4 549.0V562.8M1663.2 527.8V539.4M1674.0 519.6V531.7M1681.2 521.5V531.2M1684.8 525.1V538.0M1695.6 520.1V526.2M1699.2 520.7V527.8M1706.4 524.3V535.3M1710.0 520.1V530.6M1724.4 408.7V434.3M1728.0 406.8V439.0M1735.2 391.4V418.3M1738.8 403.2V428.8M1742.4 403.2V421.1M1746.1 418.9V432.6M1756.9 411.4V433.5M1767.7 390.8V426.0M1789.3 382.0V407.3M1792.9 403.2V423.3M1796.5 417.8V428.8M1807.3 402.4V413.4M1814.5 404.6V440.9M1825.3 417.8V427.1M1836.1 368.8V388.6M1839.7 383.1V407.9M1843.3 403.2V434.3M1846.9 412.8V426.0M1854.1 398.8V422.2M1857.7 407.0V431.8M1865.0 418.0V427.1M1868.6 415.3V444.7M1872.2 431.8V466.2M1875.8 452.4V482.1M1886.6 429.0V440.9M1890.2 422.2V440.0M1904.6 422.2V435.4M1908.2 424.4V442.0M1919.0 409.8V428.2M1929.8 411.7V423.5M1947.8 353.9V365.7M1983.9 232.8V259.8M1987.5 238.3V272.2M2005.5 212.8V238.7M2009.1 220.2V245.0M2016.3 221.6V249.7M2019.9 244.2V287.7M2023.5 271.7V296.5M2034.3 251.9V269.8M2052.3 155.0V180.9M2055.9 149.5V179.0M2066.7 87.3V136.3M2070.3 105.5V149.5M2073.9 131.4V149.5M2081.1 133.0V169.9M2084.7 151.4V193.5M2091.9 152.8V172.6M2099.1 81.3V106.6M2106.4 86.2V153.4M2113.6 106.0V132.2M2120.8 127.5V164.4M2131.6 130.8V171.5M2142.4 133.0V164.4M2149.6 155.6V168.0M2174.8 90.8V114.5M2178.4 102.7V117.8M2182.0 104.6V134.3M2185.6 123.8V141.2M2192.8 109.0V121.9M2196.4 112.8V139.3M2203.6 130.2V138.4M2207.2 137.1V192.1M2210.8 170.6V186.6M2214.4 172.8V192.1M2218.0 179.7V230.6M2225.3 198.1V208.0M2236.1 167.3V189.9M2250.5 126.6V138.4M2261.3 92.5V140.4M2268.5 125.5V164.0M2272.1 145.3V286.2M2275.7 221.8V255.9M2286.5 164.6V220.2M2290.1 171.4V214.7M2293.7 190.7V228.4M2297.3 210.8V252.1M2308.1 191.6V217.8M2311.7 188.1V227.1M2315.3 220.5V245.8M2333.3 166.6V189.4M2336.9 178.4V213.4M2340.5 197.7V227.1M2344.2 210.6V250.8M2358.6 217.0V268.4M2362.2 255.5V342.7M2369.4 283.8V314.6M2376.6 278.9V298.1M2383.8 254.7V276.1M2387.4 256.3V279.4" stroke="#df4a4f" stroke-width="2" fill="none"/>
  <!-- MACD -->
  <line x1="0" y1="778.9" x2="2425" y2="778.9" stroke="#3e4048" stroke-width="2" stroke-dasharray="9.5 11.67" stroke-dashoffset="5.9"/>
  <path d="M2.2 778.7V779.0M27.4 778.7V793.0M31.0 778.7V791.3M34.6 778.7V789.8M38.2 778.7V787.1M41.8 778.7V784.4M45.4 778.7V783.8M49.0 778.7V782.4M52.6 778.7V781.0M56.2 778.7V780.3M59.8 778.7V780.3M63.5 778.7V778.9M222.0 778.7V810.5M225.6 778.7V809.4M232.8 778.7V809.4M236.4 778.7V804.8M240.0 778.7V796.9M243.6 778.7V792.7M247.2 778.7V791.1M250.8 778.7V788.5M254.4 778.7V787.7M258.0 778.7V786.6M261.6 778.7V783.6M279.6 778.7V791.1M283.2 778.7V788.8M286.8 778.7V785.4M326.5 778.7V793.3M330.1 778.7V791.0M333.7 778.7V786.2M337.3 778.7V782.8M380.5 778.7V779.2M402.1 778.7V778.9M412.9 778.7V781.5M416.5 778.7V781.0M423.8 778.7V778.7M531.8 778.7V798.6M535.4 778.7V795.9M539.0 778.7V792.7M546.3 778.7V792.8M549.9 778.7V790.1M553.5 778.7V789.2M557.1 778.7V787.9M560.7 778.7V787.2M571.5 778.7V788.4M575.1 778.7V787.8M578.7 778.7V785.3M582.3 778.7V785.0M585.9 778.7V784.3M589.5 778.7V781.9M593.1 778.7V780.1M596.7 778.7V779.6M618.3 778.7V792.5M621.9 778.7V789.3M625.5 778.7V785.7M629.1 778.7V783.8M632.7 778.7V780.5M694.0 778.7V781.4M730.0 778.7V804.9M733.6 778.7V800.1M737.2 778.7V794.7M740.8 778.7V790.9M744.4 778.7V784.7M748.0 778.7V780.9M841.7 778.7V783.0M845.3 778.7V780.8M848.9 778.7V778.8M939.0 778.7V786.3M942.6 778.7V785.3M946.2 778.7V784.9M949.8 778.7V783.6M957.0 778.7V783.6M960.6 778.7V781.6M964.2 778.7V779.9M967.8 778.7V779.1M1021.8 778.7V782.1M1025.5 778.7V779.2M1050.7 778.7V785.4M1180.4 778.7V787.1M1184.0 778.7V784.6M1187.6 778.7V783.7M1194.8 778.7V784.0M1198.4 778.7V782.5M1223.6 778.7V809.2M1227.2 778.7V803.7M1230.8 778.7V799.6M1234.4 778.7V799.5M1238.0 778.7V798.3M1241.6 778.7V795.4M1245.2 778.7V793.8M1248.8 778.7V790.7M1252.4 778.7V789.7M1256.0 778.7V787.5M1259.6 778.7V782.9M1302.9 778.7V787.4M1306.5 778.7V781.9M1310.1 778.7V779.8M1356.9 778.7V783.4M1360.5 778.7V780.1M1382.1 778.7V794.8M1393.0 778.7V795.6M1396.6 778.7V794.6M1400.2 778.7V791.2M1403.8 778.7V789.3M1407.4 778.7V784.3M1411.0 778.7V781.1M1472.2 778.7V785.9M1479.4 778.7V786.6M1483.0 778.7V783.8M1486.6 778.7V782.5M1490.2 778.7V782.2M1493.8 778.7V780.3M1504.7 778.7V786.2M1511.9 778.7V785.8M1515.5 778.7V782.9M1519.1 778.7V780.2M1609.1 778.7V785.9M1612.7 778.7V785.5M1616.3 778.7V783.3M1619.9 778.7V780.2M1782.1 778.7V783.8M1785.7 778.7V783.1M1803.7 778.7V789.2M1807.3 778.7V788.3M1810.9 778.7V787.2M1821.7 778.7V790.3M1825.3 778.7V790.2M1828.9 778.7V785.7M1832.5 778.7V780.1M1861.3 778.7V787.5M1879.4 778.7V792.3M1883.0 778.7V788.5M1886.6 778.7V786.4M1890.2 778.7V784.7M1893.8 778.7V782.7M1897.4 778.7V781.2M1901.0 778.7V778.7M2030.7 778.7V800.1M2034.3 778.7V799.1M2037.9 778.7V796.1M2041.5 778.7V788.8M2045.1 778.7V781.1M2095.5 778.7V783.0M2128.0 778.7V795.8M2135.2 778.7V798.2M2138.8 778.7V796.3M2153.2 778.7V796.1M2156.8 778.7V793.9M2160.4 778.7V792.0M2164.0 778.7V788.8M2167.6 778.7V785.5M2221.6 778.7V803.4M2225.3 778.7V802.5M2228.9 778.7V797.4M2232.5 778.7V791.6M2236.1 778.7V788.1M2239.7 778.7V780.9M2279.3 778.7V795.3M2282.9 778.7V790.6M2300.9 778.7V792.6M2304.5 778.7V788.2M2308.1 778.7V785.9M2311.7 778.7V785.9M2318.9 778.7V783.1M2322.5 778.7V779.9M2373.0 778.7V796.3M2376.6 778.7V794.2M2380.2 778.7V787.1M2383.8 778.7V782.9M2387.4 778.7V780.5" stroke="#ffcdd2" stroke-width="1.3" opacity="0.9" fill="none"/><path d="M5.8 778.7V781.0M9.4 778.7V782.5M13.0 778.7V786.5M16.6 778.7V791.2M20.2 778.7V793.7M23.8 778.7V794.6M200.4 778.7V780.9M204.0 778.7V790.0M207.6 778.7V798.1M211.2 778.7V801.5M214.8 778.7V805.7M218.4 778.7V812.9M229.2 778.7V810.5M265.2 778.7V785.4M268.8 778.7V790.6M272.4 778.7V791.3M276.0 778.7V791.4M304.9 778.7V784.0M308.5 778.7V792.6M312.1 778.7V793.6M315.7 778.7V795.3M319.3 778.7V796.0M322.9 778.7V796.0M373.3 778.7V781.5M376.9 778.7V781.9M398.5 778.7V779.2M405.7 778.7V781.2M409.3 778.7V781.7M420.1 778.7V781.5M492.2 778.7V779.1M495.8 778.7V780.5M499.4 778.7V781.0M503.0 778.7V783.4M506.6 778.7V787.5M510.2 778.7V789.7M513.8 778.7V791.0M517.4 778.7V792.5M521.0 778.7V796.4M524.6 778.7V797.8M528.2 778.7V799.7M542.7 778.7V793.2M564.3 778.7V788.0M567.9 778.7V789.1M600.3 778.7V782.3M603.9 778.7V788.2M607.5 778.7V793.1M611.1 778.7V794.0M614.7 778.7V795.3M683.2 778.7V780.2M686.8 778.7V782.8M690.4 778.7V782.9M697.6 778.7V782.2M701.2 778.7V783.2M704.8 778.7V786.0M708.4 778.7V790.3M712.0 778.7V794.7M715.6 778.7V801.7M719.2 778.7V809.0M722.8 778.7V810.4M726.4 778.7V812.3M816.5 778.7V779.3M823.7 778.7V779.0M827.3 778.7V779.3M830.9 778.7V780.7M834.5 778.7V783.9M838.1 778.7V784.1M928.2 778.7V782.5M931.8 778.7V786.0M935.4 778.7V786.5M953.4 778.7V784.3M1007.4 778.7V778.9M1011.0 778.7V782.4M1014.6 778.7V783.6M1018.2 778.7V783.7M1032.7 778.7V779.6M1036.3 778.7V781.7M1039.9 778.7V783.1M1043.5 778.7V784.8M1047.1 778.7V786.2M1104.7 778.7V780.7M1173.2 778.7V781.2M1176.8 778.7V787.7M1191.2 778.7V784.8M1202.0 778.7V785.2M1205.6 778.7V792.0M1209.2 778.7V802.2M1212.8 778.7V806.2M1216.4 778.7V810.4M1220.0 778.7V813.0M1281.3 778.7V780.6M1284.9 778.7V785.1M1288.5 778.7V786.1M1292.1 778.7V786.5M1295.7 778.7V787.0M1299.3 778.7V788.8M1320.9 778.7V779.1M1349.7 778.7V781.5M1353.3 778.7V784.0M1367.7 778.7V779.1M1371.3 778.7V787.5M1374.9 778.7V791.4M1378.5 778.7V795.1M1385.8 778.7V795.8M1389.4 778.7V797.1M1454.2 778.7V779.4M1457.8 778.7V785.0M1461.4 778.7V788.7M1465.0 778.7V791.7M1468.6 778.7V792.2M1475.8 778.7V787.9M1497.4 778.7V781.9M1501.0 778.7V786.2M1508.3 778.7V786.8M1598.3 778.7V782.8M1601.9 778.7V786.9M1605.5 778.7V788.7M1767.7 778.7V780.8M1771.3 778.7V783.0M1774.9 778.7V784.7M1778.5 778.7V785.1M1789.3 778.7V784.0M1792.9 778.7V787.2M1796.5 778.7V789.9M1800.1 778.7V790.6M1814.5 778.7V790.8M1818.1 778.7V790.9M1839.7 778.7V779.8M1843.3 778.7V783.5M1846.9 778.7V786.0M1850.5 778.7V786.6M1854.1 778.7V786.8M1857.7 778.7V788.1M1865.0 778.7V787.5M1868.6 778.7V789.7M1872.2 778.7V793.8M1875.8 778.7V796.2M2009.1 778.7V779.3M2012.7 778.7V781.8M2016.3 778.7V786.2M2019.9 778.7V794.8M2023.5 778.7V801.3M2027.1 778.7V802.6M2081.1 778.7V779.9M2084.7 778.7V788.4M2088.3 778.7V790.3M2091.9 778.7V793.2M2106.4 778.7V782.3M2110.0 778.7V783.4M2113.6 778.7V786.2M2117.2 778.7V788.9M2120.8 778.7V795.0M2124.4 778.7V796.5M2131.6 778.7V798.7M2142.4 778.7V797.2M2146.0 778.7V797.4M2149.6 778.7V797.5M2185.6 778.7V779.9M2196.4 778.7V781.1M2200.0 778.7V782.3M2203.6 778.7V784.1M2207.2 778.7V791.8M2210.8 778.7V796.3M2214.4 778.7V799.1M2218.0 778.7V803.9M2272.1 778.7V789.8M2275.7 778.7V799.6M2286.5 778.7V791.6M2290.1 778.7V792.2M2293.7 778.7V794.1M2297.3 778.7V794.5M2315.3 778.7V785.9M2358.6 778.7V783.6M2362.2 778.7V794.7M2365.8 778.7V797.1M2369.4 778.7V799.6" stroke="#ff5252" stroke-width="1.3" opacity="0.9" fill="none"/><path d="M67.1 778.7V776.9M70.7 778.7V774.5M74.3 778.7V773.3M77.9 778.7V771.1M81.5 778.7V770.0M85.1 778.7V769.4M88.7 778.7V766.8M92.3 778.7V766.0M95.9 778.7V763.2M99.5 778.7V761.1M110.3 778.7V763.7M113.9 778.7V762.7M117.5 778.7V762.7M135.5 778.7V770.2M139.1 778.7V768.8M142.7 778.7V767.3M146.3 778.7V763.3M164.3 778.7V766.6M171.5 778.7V763.4M175.1 778.7V761.2M290.4 778.7V778.2M294.0 778.7V777.6M297.6 778.7V776.0M340.9 778.7V778.7M344.5 778.7V775.2M351.7 778.7V774.9M358.9 778.7V771.9M362.5 778.7V769.9M384.1 778.7V776.6M387.7 778.7V775.0M427.4 778.7V777.8M431.0 778.7V773.8M434.6 778.7V771.1M438.2 778.7V770.6M441.8 778.7V757.3M445.4 778.7V747.6M449.0 778.7V744.8M452.6 778.7V743.1M636.3 778.7V776.9M639.9 778.7V773.0M643.5 778.7V766.1M647.1 778.7V763.1M650.7 778.7V761.9M654.3 778.7V760.5M657.9 778.7V759.5M751.6 778.7V778.2M755.2 778.7V777.7M758.8 778.7V775.8M762.4 778.7V774.3M766.0 778.7V773.2M769.6 778.7V771.8M773.2 778.7V771.8M776.8 778.7V770.6M780.4 778.7V770.0M784.1 778.7V766.1M787.7 778.7V764.0M791.3 778.7V763.8M820.1 778.7V778.1M852.5 778.7V778.1M856.1 778.7V776.4M859.7 778.7V774.0M863.3 778.7V773.2M874.1 778.7V775.2M877.7 778.7V774.0M881.3 778.7V770.7M884.9 778.7V767.1M888.5 778.7V764.4M892.1 778.7V764.0M895.7 778.7V762.3M899.3 778.7V762.0M971.4 778.7V774.8M975.0 778.7V772.7M978.6 778.7V771.1M982.2 778.7V770.9M985.8 778.7V770.1M989.4 778.7V770.1M993.0 778.7V769.0M1029.1 778.7V777.6M1054.3 778.7V778.5M1057.9 778.7V770.3M1061.5 778.7V764.1M1065.1 778.7V757.5M1068.7 778.7V752.8M1072.3 778.7V748.4M1108.3 778.7V776.7M1111.9 778.7V775.0M1115.5 778.7V773.0M1122.7 778.7V773.9M1129.9 778.7V771.8M1133.5 778.7V771.5M1137.1 778.7V770.8M1140.7 778.7V769.4M1144.4 778.7V769.3M1155.2 778.7V773.8M1158.8 778.7V773.6M1162.4 778.7V770.1M1166.0 778.7V769.8M1263.3 778.7V776.9M1266.9 778.7V772.3M1270.5 778.7V770.1M1274.1 778.7V768.0M1313.7 778.7V775.9M1324.5 778.7V777.7M1328.1 778.7V776.7M1335.3 778.7V776.6M1342.5 778.7V775.8M1364.1 778.7V777.1M1414.6 778.7V777.7M1418.2 778.7V776.1M1421.8 778.7V774.8M1425.4 778.7V772.5M1429.0 778.7V772.0M1432.6 778.7V770.4M1436.2 778.7V768.8M1443.4 778.7V767.5M1447.0 778.7V765.9M1522.7 778.7V778.7M1526.3 778.7V776.6M1529.9 778.7V774.5M1533.5 778.7V770.4M1537.1 778.7V769.4M1540.7 778.7V768.5M1544.3 778.7V767.3M1547.9 778.7V766.4M1551.5 778.7V764.3M1555.1 778.7V764.0M1580.3 778.7V775.8M1623.6 778.7V778.3M1627.2 778.7V775.9M1630.8 778.7V775.2M1634.4 778.7V774.9M1638.0 778.7V774.2M1641.6 778.7V773.5M1645.2 778.7V772.7M1652.4 778.7V772.7M1656.0 778.7V768.5M1659.6 778.7V765.8M1663.2 778.7V765.1M1666.8 778.7V763.9M1670.4 778.7V763.5M1713.6 778.7V767.6M1717.2 778.7V758.0M1720.8 778.7V750.6M1724.4 778.7V749.3M1731.6 778.7V748.5M1764.1 778.7V777.5M1836.1 778.7V777.9M1904.6 778.7V778.2M1911.8 778.7V774.5M1915.4 778.7V772.5M1926.2 778.7V773.3M1933.4 778.7V772.8M1937.0 778.7V768.6M1940.6 778.7V762.3M1944.2 778.7V759.7M1947.8 778.7V759.1M1951.4 778.7V759.1M1958.6 778.7V758.7M1962.2 778.7V754.1M1965.8 778.7V750.2M1969.4 778.7V748.0M1976.6 778.7V746.4M2048.7 778.7V771.7M2052.3 778.7V768.3M2055.9 778.7V766.4M2059.5 778.7V758.4M2063.1 778.7V752.6M2099.1 778.7V778.1M2102.7 778.7V775.1M2171.2 778.7V777.9M2174.8 778.7V775.4M2178.4 778.7V774.6M2189.2 778.7V778.5M2243.3 778.7V772.8M2246.9 778.7V767.8M2250.5 778.7V765.5M2254.1 778.7V762.4M2257.7 778.7V759.3M2326.1 778.7V777.4M2329.7 778.7V771.1M2333.3 778.7V768.3M2355.0 778.7V777.0" stroke="#26a69a" stroke-width="1.3" opacity="0.9" fill="none"/><path d="M103.1 778.7V762.7M106.7 778.7V764.2M121.1 778.7V765.0M124.7 778.7V766.7M128.3 778.7V769.7M131.9 778.7V770.9M149.9 778.7V764.0M153.5 778.7V764.1M157.1 778.7V766.2M160.7 778.7V767.2M167.9 778.7V767.7M178.7 778.7V761.3M182.3 778.7V763.0M186.0 778.7V767.7M189.6 778.7V767.9M193.2 778.7V770.7M196.8 778.7V773.3M301.2 778.7V776.1M348.1 778.7V775.4M355.3 778.7V775.3M366.1 778.7V771.7M369.7 778.7V777.5M391.3 778.7V775.8M394.9 778.7V777.4M456.2 778.7V745.0M459.8 778.7V747.3M463.4 778.7V748.4M467.0 778.7V750.1M470.6 778.7V755.4M474.2 778.7V761.3M477.8 778.7V766.7M481.4 778.7V769.8M485.0 778.7V772.7M488.6 778.7V776.2M661.5 778.7V759.6M665.2 778.7V760.5M668.8 778.7V763.3M672.4 778.7V765.6M676.0 778.7V771.1M679.6 778.7V777.5M794.9 778.7V765.7M798.5 778.7V772.1M802.1 778.7V774.1M805.7 778.7V776.0M809.3 778.7V777.2M812.9 778.7V777.9M866.9 778.7V774.8M870.5 778.7V776.0M903.0 778.7V764.1M906.6 778.7V764.7M910.2 778.7V765.0M913.8 778.7V766.7M917.4 778.7V768.7M921.0 778.7V771.5M924.6 778.7V777.3M996.6 778.7V770.4M1000.2 778.7V772.8M1003.8 778.7V776.7M1075.9 778.7V749.8M1079.5 778.7V754.5M1083.1 778.7V761.3M1086.7 778.7V765.4M1090.3 778.7V768.5M1093.9 778.7V772.7M1097.5 778.7V773.9M1101.1 778.7V777.5M1119.1 778.7V774.3M1126.3 778.7V776.2M1148.0 778.7V773.5M1151.6 778.7V776.1M1169.6 778.7V770.6M1277.7 778.7V773.9M1317.3 778.7V777.0M1331.7 778.7V777.8M1338.9 778.7V776.6M1346.1 778.7V777.3M1439.8 778.7V769.3M1450.6 778.7V772.5M1558.7 778.7V765.3M1562.3 778.7V766.5M1565.9 778.7V770.3M1569.5 778.7V774.1M1573.1 778.7V776.6M1576.7 778.7V777.0M1583.9 778.7V777.2M1587.5 778.7V777.4M1591.1 778.7V778.1M1594.7 778.7V778.2M1648.8 778.7V772.9M1674.0 778.7V764.7M1677.6 778.7V765.4M1681.2 778.7V767.0M1684.8 778.7V768.5M1688.4 778.7V768.5M1692.0 778.7V769.3M1695.6 778.7V770.7M1699.2 778.7V772.3M1702.8 778.7V773.6M1706.4 778.7V775.1M1710.0 778.7V775.8M1728.0 778.7V750.7M1735.2 778.7V751.6M1738.8 778.7V755.7M1742.4 778.7V760.5M1746.1 778.7V766.4M1749.7 778.7V770.7M1753.3 778.7V773.8M1756.9 778.7V777.4M1760.5 778.7V777.9M1908.2 778.7V778.6M1919.0 778.7V773.5M1922.6 778.7V773.9M1929.8 778.7V773.9M1955.0 778.7V759.2M1973.0 778.7V748.3M1980.2 778.7V747.9M1983.9 778.7V753.9M1987.5 778.7V761.1M1991.1 778.7V764.8M1994.7 778.7V768.1M1998.3 778.7V770.5M2001.9 778.7V771.8M2005.5 778.7V775.1M2066.7 778.7V756.0M2070.3 778.7V762.6M2073.9 778.7V767.9M2077.5 778.7V771.8M2182.0 778.7V777.2M2192.8 778.7V778.5M2261.3 778.7V763.0M2264.9 778.7V765.3M2268.5 778.7V772.0M2336.9 778.7V770.2M2340.5 778.7V773.6M2344.2 778.7V776.7M2347.8 778.7V777.2M2351.4 778.7V777.3" stroke="#b2dfdb" stroke-width="1.3" opacity="0.9" fill="none"/>
  <polyline points="-1.4,752.6 2.2,755.0 5.8,757.5 9.4,760.0 13.0,765.9 16.6,773.7 20.2,780.0 23.8,784.9 27.4,786.9 31.0,788.3 34.6,789.6 38.2,789.0 41.8,787.8 45.4,788.4 49.0,788.0 52.6,787.2 56.2,786.9 59.8,787.2 63.5,785.9 67.1,783.5 70.7,780.0 74.3,777.5 77.9,773.4 81.5,770.1 85.1,767.1 88.7,761.5 92.3,757.6 95.9,751.0 99.5,744.5 103.1,742.1 106.7,739.9 110.3,735.7 113.9,730.7 117.5,726.7 121.1,725.6 124.7,724.2 128.3,725.0 131.9,724.2 135.5,721.4 139.1,717.6 142.7,713.2 146.3,705.4 149.9,702.4 153.5,698.9 157.1,697.8 160.7,696.0 164.3,692.4 167.9,690.6 171.5,682.5 175.1,676.0 178.7,671.7 182.3,669.5 186.0,671.5 189.6,669.0 193.2,669.7 196.8,671.0 200.4,679.2 204.0,691.1 207.6,704.1 211.2,713.1 214.8,724.0 218.4,739.8 222.0,745.4 225.6,751.9 229.2,761.1 232.8,767.7 236.4,769.6 240.0,766.2 243.6,765.5 247.2,767.0 250.8,766.9 254.4,768.3 258.0,769.2 261.6,767.4 265.2,770.9 268.8,779.0 272.4,782.9 276.0,786.2 279.6,788.9 283.2,789.2 286.8,787.5 290.4,780.1 294.0,779.3 297.6,777.1 301.2,776.5 304.9,785.8 308.5,797.8 312.1,802.5 315.7,808.3 319.3,813.4 322.9,817.7 326.5,818.7 330.1,819.4 333.7,816.6 337.3,814.1 340.9,810.0 344.5,805.7 348.1,805.1 351.7,803.6 355.3,803.2 358.9,798.1 362.5,793.9 366.1,793.9 369.7,799.4 373.3,804.1 376.9,805.3 380.5,802.7 384.1,799.6 387.7,797.0 391.3,797.1 394.9,798.4 398.5,800.3 402.1,800.1 405.7,803.0 409.3,804.2 412.9,804.7 416.5,804.9 420.1,806.0 423.8,803.2 427.4,802.1 431.0,796.9 434.6,792.3 438.2,789.8 441.8,771.1 445.4,753.6 449.0,742.3 452.6,731.7 456.2,725.2 459.8,719.6 463.4,713.2 467.0,707.7 470.6,707.2 474.2,708.7 477.8,711.1 481.4,711.9 485.0,713.4 488.6,716.3 492.2,719.3 495.8,721.1 499.4,722.2 503.0,725.7 506.6,732.1 510.2,737.0 513.8,741.4 517.4,746.4 521.0,754.7 524.6,760.8 528.2,768.0 531.8,771.9 535.4,773.4 539.0,773.8 542.7,777.9 546.3,781.1 549.9,781.1 553.5,782.9 557.1,783.9 560.7,785.3 564.3,788.4 567.9,792.2 571.5,793.9 575.1,795.6 578.7,794.7 582.3,795.9 585.9,796.7 589.5,795.0 593.1,793.6 596.7,793.4 600.3,797.0 603.9,805.3 607.5,813.7 611.1,818.4 614.7,823.9 618.3,824.6 621.9,824.0 625.5,822.1 629.1,821.5 632.7,818.6 636.3,814.6 639.9,809.3 643.5,799.2 647.1,792.3 650.7,786.9 654.3,780.9 657.9,775.1 661.5,770.5 665.2,766.8 668.8,765.8 672.4,764.8 676.0,768.4 679.6,774.5 683.2,777.6 686.8,781.2 690.4,782.3 694.0,781.5 697.6,783.1 701.2,785.3 704.8,789.9 708.4,797.1 712.0,805.5 715.6,818.2 719.2,833.1 722.8,842.4 726.4,852.7 730.0,851.9 733.6,852.4 737.2,851.0 740.8,850.3 744.4,845.6 748.0,842.3 751.6,839.5 755.2,838.7 758.8,836.2 762.4,833.5 766.0,831.0 769.6,827.9 773.2,826.2 776.8,822.9 780.4,820.2 784.1,813.1 787.7,807.3 791.3,803.4 794.9,802.0 798.5,806.8 802.1,807.7 805.7,808.9 809.3,809.8 812.9,810.2 816.5,811.7 820.1,810.4 823.7,811.3 827.3,811.7 830.9,813.7 834.5,818.3 838.1,819.8 841.7,819.8 845.3,818.1 848.9,816.1 852.5,815.2 856.1,812.9 859.7,809.4 863.3,807.2 866.9,807.8 870.5,808.4 874.1,806.7 877.7,804.4 881.3,799.1 884.9,792.5 888.5,786.3 892.1,782.2 895.7,776.4 899.3,772.0 903.0,770.4 906.6,767.5 910.2,764.3 913.8,763.0 917.4,762.5 921.0,763.5 924.6,769.0 928.2,775.2 931.8,780.5 935.4,782.9 939.0,784.5 942.6,785.2 946.2,786.4 949.8,786.4 953.4,788.5 957.0,788.9 960.6,787.7 964.2,786.3 967.8,785.6 971.4,780.3 975.0,776.8 978.6,773.2 982.2,771.1 985.8,768.1 989.4,766.0 993.0,762.4 996.6,761.7 1000.2,762.7 1003.8,766.1 1007.4,768.3 1011.0,772.8 1014.6,775.1 1018.2,776.5 1021.8,775.8 1025.5,773.0 1029.1,771.2 1032.7,773.3 1036.3,776.2 1039.9,778.7 1043.5,781.9 1047.1,785.1 1050.7,786.0 1054.3,779.1 1057.9,768.8 1061.5,759.0 1065.1,747.1 1068.7,735.9 1072.3,723.9 1075.9,718.0 1079.5,716.7 1083.1,719.1 1086.7,720.0 1090.3,720.5 1093.9,723.3 1097.5,723.3 1101.1,726.5 1104.7,730.2 1108.3,725.7 1111.9,723.1 1115.5,719.7 1119.1,719.9 1122.7,718.2 1126.3,720.0 1129.9,713.9 1133.5,711.7 1137.1,709.0 1140.7,705.3 1144.4,702.9 1148.0,705.7 1151.6,707.7 1155.2,704.2 1158.8,702.7 1162.4,697.1 1166.0,694.5 1169.6,693.4 1173.2,704.6 1176.8,713.3 1180.4,714.8 1184.0,713.7 1187.6,714.1 1191.2,716.8 1194.8,717.2 1198.4,716.8 1202.0,721.1 1205.6,731.1 1209.2,747.2 1212.8,758.2 1216.4,770.3 1220.0,781.5 1223.6,785.2 1227.2,786.1 1230.8,787.1 1234.4,792.2 1238.0,796.0 1241.6,797.3 1245.2,799.3 1248.8,799.3 1252.4,801.1 1256.0,801.0 1259.6,797.6 1263.3,791.0 1266.9,784.8 1270.5,780.5 1274.1,775.7 1277.7,780.4 1281.3,787.6 1284.9,793.7 1288.5,796.6 1292.1,798.9 1295.7,801.4 1299.3,805.7 1302.9,806.6 1306.5,801.9 1310.1,800.1 1313.7,795.5 1317.3,796.2 1320.9,798.3 1324.5,796.7 1328.1,795.2 1331.7,796.0 1335.3,794.3 1338.9,793.8 1342.5,792.2 1346.1,793.5 1349.7,798.3 1353.3,802.1 1356.9,802.7 1360.5,799.8 1364.1,796.4 1367.7,798.5 1371.3,809.1 1374.9,816.1 1378.5,823.9 1382.1,827.6 1385.8,833.0 1389.4,838.8 1393.0,841.6 1396.6,844.6 1400.2,844.3 1403.8,845.1 1407.4,841.5 1411.0,838.8 1414.6,835.3 1418.2,833.0 1421.8,830.7 1425.4,826.8 1429.0,824.6 1432.6,820.9 1436.2,816.9 1439.8,815.0 1443.4,810.5 1447.0,805.7 1450.6,810.7 1454.2,817.7 1457.8,825.0 1461.4,831.1 1465.0,837.4 1468.6,841.2 1472.2,836.8 1475.8,841.1 1479.4,841.7 1483.0,840.2 1486.6,839.8 1490.2,840.4 1493.8,838.9 1497.4,841.4 1501.0,847.5 1504.7,849.4 1508.3,852.1 1511.9,852.8 1515.5,850.9 1519.1,848.6 1522.7,847.1 1526.3,844.5 1529.9,841.3 1533.5,835.2 1537.1,831.8 1540.7,828.4 1544.3,824.3 1547.9,820.3 1551.5,814.6 1555.1,810.7 1558.7,808.6 1562.3,806.8 1565.9,808.4 1569.5,811.1 1573.1,813.1 1576.7,813.1 1580.3,811.1 1583.9,812.1 1587.5,812.0 1591.1,812.5 1594.7,812.6 1598.3,818.1 1601.9,824.3 1605.5,828.6 1609.1,827.7 1612.7,829.0 1616.3,827.8 1619.9,825.2 1623.6,823.1 1627.2,820.0 1630.8,818.5 1634.4,817.2 1638.0,815.4 1641.6,813.4 1645.2,811.1 1648.8,809.8 1652.4,808.2 1656.0,801.5 1659.6,795.5 1663.2,791.4 1666.8,786.6 1670.4,782.3 1674.0,779.9 1677.6,777.4 1681.2,776.1 1684.8,775.0 1688.4,772.5 1692.0,770.9 1695.6,770.3 1699.2,770.4 1702.8,770.3 1706.4,770.9 1710.0,770.9 1713.6,760.0 1717.2,745.1 1720.8,730.7 1724.4,722.1 1728.0,716.5 1731.6,706.8 1735.2,703.1 1738.8,701.4 1742.4,701.7 1746.1,704.5 1749.7,706.8 1753.3,708.7 1756.9,712.0 1760.5,712.2 1764.1,711.6 1767.7,715.4 1771.3,718.6 1774.9,721.8 1778.5,723.9 1782.1,723.8 1785.7,724.2 1789.3,726.4 1792.9,731.7 1796.5,737.2 1800.1,740.9 1803.7,742.1 1807.3,743.7 1810.9,744.6 1814.5,751.3 1818.1,754.4 1821.7,756.7 1825.3,759.5 1828.9,756.8 1832.5,751.5 1836.1,749.1 1839.7,751.2 1843.3,756.2 1846.9,760.6 1850.5,763.0 1854.1,765.3 1857.7,768.9 1861.3,770.5 1865.0,772.8 1868.6,777.7 1872.2,785.6 1875.8,792.3 1879.4,791.9 1883.0,790.5 1886.6,790.3 1890.2,790.1 1893.8,789.2 1897.4,788.2 1901.0,785.8 1904.6,785.2 1908.2,785.5 1911.8,780.4 1915.4,776.8 1919.0,776.5 1922.6,775.7 1926.2,773.8 1929.8,773.2 1933.4,770.6 1937.0,763.9 1940.6,753.5 1944.2,746.1 1947.8,740.7 1951.4,735.7 1955.0,730.9 1958.6,725.5 1962.2,714.7 1965.8,703.7 1969.4,693.8 1973.0,686.5 1976.6,676.6 1980.2,670.4 1983.9,670.1 1987.5,673.0 1991.1,673.1 1994.7,673.8 1998.3,674.2 2001.9,673.8 2005.5,676.2 2009.1,680.6 2012.7,683.7 2016.3,690.1 2019.9,702.7 2023.5,714.8 2027.1,722.1 2030.7,724.9 2034.3,729.1 2037.9,730.4 2041.5,725.6 2045.1,718.5 2048.7,707.4 2052.3,701.4 2055.9,696.4 2059.5,683.3 2063.1,671.0 2066.7,668.7 2070.3,671.2 2073.9,673.8 2077.5,676.0 2081.1,684.4 2084.7,695.4 2088.3,700.2 2091.9,706.7 2095.5,697.5 2099.1,692.5 2102.7,688.6 2106.4,696.7 2110.0,699.0 2113.6,703.6 2117.2,708.9 2120.8,719.1 2124.4,725.0 2128.0,728.6 2131.6,736.5 2135.2,740.9 2138.8,743.4 2142.4,748.9 2146.0,753.8 2149.6,758.6 2153.2,761.5 2156.8,763.1 2160.4,764.5 2164.0,763.9 2167.6,762.3 2171.2,754.5 2174.8,751.1 2178.4,749.3 2182.0,751.5 2185.6,754.5 2189.2,753.0 2192.8,753.0 2196.4,756.2 2200.0,758.3 2203.6,761.4 2207.2,772.4 2210.8,781.3 2214.4,789.3 2218.0,800.3 2221.6,806.0 2225.3,811.1 2228.9,810.6 2232.5,808.0 2236.1,806.9 2239.7,800.3 2243.3,790.7 2246.9,783.0 2250.5,777.4 2254.1,770.2 2257.7,762.2 2261.3,762.0 2264.9,761.0 2268.5,766.0 2272.1,786.6 2275.7,801.7 2279.3,801.5 2282.9,799.8 2286.5,804.0 2290.1,808.0 2293.7,813.7 2297.3,818.1 2300.9,819.7 2304.5,817.7 2308.1,817.1 2311.7,818.9 2315.3,820.7 2318.9,819.1 2322.5,816.1 2326.1,813.3 2329.7,805.1 2333.3,799.7 2336.9,799.4 2340.5,801.6 2344.2,804.2 2347.8,804.3 2351.4,804.0 2355.0,803.4 2358.6,811.2 2362.2,826.3 2365.8,833.2 2369.4,840.9 2373.0,842.1 2376.6,843.9 2380.2,838.9 2383.8,835.8 2387.4,833.8" fill="none" stroke="#3b66f5" stroke-width="1.7" stroke-linejoin="round"/>
  <polyline points="-1.4,754.6 2.2,754.7 5.8,755.2 9.4,756.2 13.0,758.1 16.6,761.3 20.2,765.0 23.8,769.0 27.4,772.6 31.0,775.7 34.6,778.5 38.2,780.6 41.8,782.0 45.4,783.3 49.0,784.3 52.6,784.8 56.2,785.2 59.8,785.6 63.5,785.7 67.1,785.3 70.7,784.2 74.3,782.9 77.9,781.0 81.5,778.8 85.1,776.5 88.7,773.5 92.3,770.3 95.9,766.4 99.5,762.0 103.1,758.1 106.7,754.4 110.3,750.7 113.9,746.7 117.5,742.7 121.1,739.3 124.7,736.3 128.3,734.0 131.9,732.1 135.5,729.9 139.1,727.5 142.7,724.6 146.3,720.8 149.9,717.1 153.5,713.4 157.1,710.3 160.7,707.4 164.3,704.4 167.9,701.7 171.5,697.8 175.1,693.5 178.7,689.1 182.3,685.2 186.0,682.5 189.6,679.8 193.2,677.8 196.8,676.4 200.4,677.0 204.0,679.8 207.6,684.7 211.2,690.3 214.8,697.1 218.4,705.6 222.0,713.6 225.6,721.3 229.2,729.2 232.8,736.9 236.4,743.4 240.0,748.0 243.6,751.5 247.2,754.6 250.8,757.1 254.4,759.3 258.0,761.3 261.6,762.5 265.2,764.2 268.8,767.2 272.4,770.3 276.0,773.5 279.6,776.6 283.2,779.1 286.8,780.8 290.4,780.7 294.0,780.4 297.6,779.7 301.2,779.1 304.9,780.4 308.5,783.9 312.1,787.6 315.7,791.8 319.3,796.1 322.9,800.4 326.5,804.1 330.1,807.1 333.7,809.0 337.3,810.0 340.9,810.0 344.5,809.2 348.1,808.4 351.7,807.4 355.3,806.6 358.9,804.9 362.5,802.7 366.1,800.9 369.7,800.6 373.3,801.3 376.9,802.1 380.5,802.2 384.1,801.7 387.7,800.7 391.3,800.0 394.9,799.7 398.5,799.8 402.1,799.9 405.7,800.5 409.3,801.2 412.9,801.9 416.5,802.5 420.1,803.2 423.8,803.2 427.4,803.0 431.0,801.8 434.6,799.9 438.2,797.9 441.8,792.5 445.4,784.7 449.0,776.2 452.6,767.3 456.2,758.9 459.8,751.0 463.4,743.5 467.0,736.3 470.6,730.5 474.2,726.1 477.8,723.1 481.4,720.9 485.0,719.4 488.6,718.8 492.2,718.9 495.8,719.3 499.4,719.9 503.0,721.1 506.6,723.3 510.2,726.0 513.8,729.1 517.4,732.5 521.0,737.0 524.6,741.7 528.2,747.0 531.8,752.0 535.4,756.2 539.0,759.8 542.7,763.4 546.3,766.9 549.9,769.8 553.5,772.4 557.1,774.7 560.7,776.8 564.3,779.1 567.9,781.7 571.5,784.2 575.1,786.5 578.7,788.1 582.3,789.7 585.9,791.1 589.5,791.9 593.1,792.2 596.7,792.4 600.3,793.3 603.9,795.7 607.5,799.3 611.1,803.1 614.7,807.3 618.3,810.7 621.9,813.4 625.5,815.2 629.1,816.4 632.7,816.9 636.3,816.4 639.9,815.0 643.5,811.8 647.1,807.9 650.7,803.7 654.3,799.2 657.9,794.3 661.5,789.6 665.2,785.0 668.8,781.2 672.4,777.9 676.0,776.0 679.6,775.7 683.2,776.1 686.8,777.1 690.4,778.1 694.0,778.8 697.6,779.7 701.2,780.8 704.8,782.6 708.4,785.5 712.0,789.5 715.6,795.3 719.2,802.8 722.8,810.7 726.4,819.1 730.0,825.7 733.6,831.0 737.2,835.0 740.8,838.1 744.4,839.6 748.0,840.1 751.6,840.0 755.2,839.7 758.8,839.0 762.4,837.9 766.0,836.5 769.6,834.8 773.2,833.1 776.8,831.1 780.4,828.9 784.1,825.7 787.7,822.0 791.3,818.3 794.9,815.0 798.5,813.4 802.1,812.2 805.7,811.6 809.3,811.2 812.9,811.0 816.5,811.1 820.1,811.0 823.7,811.1 827.3,811.2 830.9,811.7 834.5,813.0 838.1,814.4 841.7,815.5 845.3,816.0 848.9,816.0 852.5,815.8 856.1,815.3 859.7,814.1 863.3,812.7 866.9,811.7 870.5,811.1 874.1,810.2 877.7,809.0 881.3,807.0 884.9,804.1 888.5,800.6 892.1,796.9 895.7,792.8 899.3,788.6 903.0,785.0 906.6,781.5 910.2,778.1 913.8,775.1 917.4,772.5 921.0,770.7 924.6,770.4 928.2,771.3 931.8,773.2 935.4,775.1 939.0,777.0 942.6,778.6 946.2,780.2 949.8,781.4 953.4,782.8 957.0,784.0 960.6,784.8 964.2,785.1 967.8,785.2 971.4,784.2 975.0,782.7 978.6,780.8 982.2,778.9 985.8,776.7 989.4,774.6 993.0,772.1 996.6,770.0 1000.2,768.6 1003.8,768.1 1007.4,768.1 1011.0,769.1 1014.6,770.3 1018.2,771.5 1021.8,772.4 1025.5,772.5 1029.1,772.2 1032.7,772.4 1036.3,773.2 1039.9,774.3 1043.5,775.8 1047.1,777.7 1050.7,779.3 1054.3,779.3 1057.9,777.2 1061.5,773.6 1065.1,768.3 1068.7,761.8 1072.3,754.2 1075.9,747.0 1079.5,740.9 1083.1,736.6 1086.7,733.2 1090.3,730.7 1093.9,729.2 1097.5,728.0 1101.1,727.7 1104.7,728.2 1108.3,727.7 1111.9,726.8 1115.5,725.4 1119.1,724.3 1122.7,723.1 1126.3,722.4 1129.9,720.7 1133.5,718.9 1137.1,716.9 1140.7,714.6 1144.4,712.3 1148.0,710.9 1151.6,710.3 1155.2,709.1 1158.8,707.8 1162.4,705.7 1166.0,703.4 1169.6,701.4 1173.2,702.1 1176.8,704.3 1180.4,706.4 1184.0,707.9 1187.6,709.1 1191.2,710.6 1194.8,712.0 1198.4,712.9 1202.0,714.6 1205.6,717.9 1209.2,723.7 1212.8,730.6 1216.4,738.6 1220.0,747.1 1223.6,754.8 1227.2,761.0 1230.8,766.2 1234.4,771.4 1238.0,776.3 1241.6,780.5 1245.2,784.3 1248.8,787.3 1252.4,790.0 1256.0,792.2 1259.6,793.3 1263.3,792.9 1266.9,791.2 1270.5,789.1 1274.1,786.4 1277.7,785.2 1281.3,785.7 1284.9,787.3 1288.5,789.2 1292.1,791.1 1295.7,793.2 1299.3,795.7 1302.9,797.9 1306.5,798.7 1310.1,799.0 1313.7,798.3 1317.3,797.8 1320.9,797.9 1324.5,797.7 1328.1,797.2 1331.7,797.0 1335.3,796.4 1338.9,795.9 1342.5,795.2 1346.1,794.8 1349.7,795.5 1353.3,796.8 1356.9,798.0 1360.5,798.4 1364.1,798.0 1367.7,798.1 1371.3,800.3 1374.9,803.4 1378.5,807.5 1382.1,811.5 1385.8,815.8 1389.4,820.4 1393.0,824.7 1396.6,828.6 1400.2,831.8 1403.8,834.4 1407.4,835.8 1411.0,836.4 1414.6,836.2 1418.2,835.6 1421.8,834.6 1425.4,833.0 1429.0,831.4 1432.6,829.3 1436.2,826.8 1439.8,824.4 1443.4,821.6 1447.0,818.4 1450.6,816.9 1454.2,817.1 1457.8,818.6 1461.4,821.1 1465.0,824.4 1468.6,827.7 1472.2,829.6 1475.8,831.9 1479.4,833.8 1483.0,835.1 1486.6,836.1 1490.2,836.9 1493.8,837.3 1497.4,838.1 1501.0,840.0 1504.7,841.9 1508.3,843.9 1511.9,845.7 1515.5,846.7 1519.1,847.1 1522.7,847.1 1526.3,846.6 1529.9,845.5 1533.5,843.5 1537.1,841.1 1540.7,838.6 1544.3,835.7 1547.9,832.7 1551.5,829.1 1555.1,825.4 1558.7,822.0 1562.3,819.0 1565.9,816.9 1569.5,815.7 1573.1,815.2 1576.7,814.8 1580.3,814.0 1583.9,813.7 1587.5,813.3 1591.1,813.2 1594.7,813.1 1598.3,814.1 1601.9,816.1 1605.5,818.6 1609.1,820.4 1612.7,822.1 1616.3,823.3 1619.9,823.6 1623.6,823.5 1627.2,822.8 1630.8,822.0 1634.4,821.0 1638.0,819.9 1641.6,818.6 1645.2,817.1 1648.8,815.6 1652.4,814.2 1656.0,811.6 1659.6,808.4 1663.2,805.0 1666.8,801.3 1670.4,797.5 1674.0,794.0 1677.6,790.7 1681.2,787.7 1684.8,785.2 1688.4,782.7 1692.0,780.3 1695.6,778.3 1699.2,776.7 1702.8,775.4 1706.4,774.5 1710.0,773.8 1713.6,771.0 1717.2,765.9 1720.8,758.8 1724.4,751.5 1728.0,744.5 1731.6,737.0 1735.2,730.2 1738.8,724.4 1742.4,719.9 1746.1,716.8 1749.7,714.8 1753.3,713.6 1756.9,713.3 1760.5,713.1 1764.1,712.8 1767.7,713.3 1771.3,714.3 1774.9,715.8 1778.5,717.4 1782.1,718.7 1785.7,719.8 1789.3,721.1 1792.9,723.3 1796.5,726.0 1800.1,729.0 1803.7,731.6 1807.3,734.1 1810.9,736.2 1814.5,739.2 1818.1,742.2 1821.7,745.1 1825.3,748.0 1828.9,749.8 1832.5,750.1 1836.1,749.9 1839.7,750.2 1843.3,751.4 1846.9,753.2 1850.5,755.2 1854.1,757.2 1857.7,759.5 1861.3,761.7 1865.0,763.9 1868.6,766.7 1872.2,770.5 1875.8,774.8 1879.4,778.2 1883.0,780.7 1886.6,782.6 1890.2,784.1 1893.8,785.1 1897.4,785.7 1901.0,785.8 1904.6,785.6 1908.2,785.6 1911.8,784.6 1915.4,783.0 1919.0,781.7 1922.6,780.5 1926.2,779.2 1929.8,778.0 1933.4,776.5 1937.0,774.0 1940.6,769.9 1944.2,765.1 1947.8,760.2 1951.4,755.3 1955.0,750.4 1958.6,745.4 1962.2,739.3 1965.8,732.2 1969.4,724.5 1973.0,716.9 1976.6,708.8 1980.2,701.1 1983.9,694.9 1987.5,690.5 1991.1,687.1 1994.7,684.4 1998.3,682.4 2001.9,680.6 2005.5,679.8 2009.1,679.9 2012.7,680.7 2016.3,682.6 2019.9,686.6 2023.5,692.2 2027.1,698.2 2030.7,703.5 2034.3,708.7 2037.9,713.0 2041.5,715.5 2045.1,716.1 2048.7,714.4 2052.3,711.8 2055.9,708.7 2059.5,703.6 2063.1,697.1 2066.7,691.4 2070.3,687.4 2073.9,684.7 2077.5,682.9 2081.1,683.2 2084.7,685.7 2088.3,688.6 2091.9,692.2 2095.5,693.3 2099.1,693.1 2102.7,692.2 2106.4,693.1 2110.0,694.3 2113.6,696.1 2117.2,698.7 2120.8,702.8 2124.4,707.2 2128.0,711.5 2131.6,716.5 2135.2,721.4 2138.8,725.8 2142.4,730.4 2146.0,735.1 2149.6,739.8 2153.2,744.1 2156.8,747.9 2160.4,751.2 2164.0,753.8 2167.6,755.5 2171.2,755.3 2174.8,754.4 2178.4,753.4 2182.0,753.0 2185.6,753.3 2189.2,753.3 2192.8,753.2 2196.4,753.8 2200.0,754.7 2203.6,756.0 2207.2,759.3 2210.8,763.7 2214.4,768.8 2218.0,775.1 2221.6,781.3 2225.3,787.3 2228.9,791.9 2232.5,795.2 2236.1,797.5 2239.7,798.1 2243.3,796.6 2246.9,793.9 2250.5,790.6 2254.1,786.5 2257.7,781.6 2261.3,777.7 2264.9,774.4 2268.5,772.7 2272.1,775.5 2275.7,780.7 2279.3,784.9 2282.9,787.9 2286.5,791.1 2290.1,794.5 2293.7,798.3 2297.3,802.3 2300.9,805.8 2304.5,808.1 2308.1,809.9 2311.7,811.7 2315.3,813.5 2318.9,814.6 2322.5,814.9 2326.1,814.6 2329.7,812.7 2333.3,810.1 2336.9,808.0 2340.5,806.7 2344.2,806.2 2347.8,805.8 2351.4,805.5 2355.0,805.0 2358.6,806.3 2362.2,810.3 2365.8,814.9 2369.4,820.1 2373.0,824.5 2376.6,828.4 2380.2,830.5 2383.8,831.5 2387.4,832.0" fill="none" stroke="#ee7a2e" stroke-width="1.7" stroke-linejoin="round"/>
  <!-- RSI -->
  <polyline points="-1.4,988.3 2.2,991.8 5.8,995.7 9.4,997.5 13.0,1025.8 16.6,1042.3 20.2,1043.0 23.8,1042.2 27.4,1026.1 31.0,1026.1 34.6,1028.0 38.2,1013.8 41.8,1007.8 45.4,1021.7 49.0,1013.6 52.6,1010.6 56.2,1013.9 59.8,1020.1 63.5,1005.5 67.1,993.0 70.7,980.5 74.3,983.4 77.9,967.7 81.5,966.6 85.1,963.1 88.7,943.5 92.3,946.8 95.9,930.0 99.5,924.7 103.1,950.0 106.7,946.9 110.3,935.0 113.9,928.1 117.5,926.1 121.1,940.9 124.7,937.0 128.3,949.6 131.9,941.2 135.5,931.5 139.1,924.6 142.7,919.4 146.3,908.9 149.9,928.8 153.5,924.1 157.1,930.4 160.7,925.6 164.3,918.7 167.9,919.5 171.5,906.1 175.1,904.4 178.7,903.9 182.3,903.9 186.0,925.4 189.6,914.9 193.2,926.5 196.8,925.3 200.4,966.0 204.0,988.9 207.6,1001.0 211.2,992.9 214.8,1006.6 218.4,1030.2 222.0,1002.6 225.6,1008.5 229.2,1020.4 232.8,1017.4 236.4,1004.8 240.0,988.7 243.6,995.3 247.2,1002.5 250.8,997.4 254.4,1002.8 258.0,1001.3 261.6,991.6 265.2,1010.9 268.8,1028.4 272.4,1018.4 276.0,1019.4 279.6,1020.1 283.2,1012.3 286.8,1004.1 290.4,982.1 294.0,1002.7 297.6,996.8 301.2,1001.6 304.9,1033.2 308.5,1045.2 312.1,1027.7 315.7,1033.8 319.3,1036.0 322.9,1038.1 326.5,1029.5 330.1,1030.9 333.7,1017.7 337.3,1018.6 340.9,1010.9 344.5,1007.4 348.1,1019.9 351.7,1016.7 355.3,1020.7 358.9,999.7 362.5,999.7 366.1,1015.4 369.7,1036.2 373.3,1038.2 376.9,1026.8 380.5,1011.4 384.1,1007.9 387.7,1008.5 391.3,1018.5 394.9,1025.0 398.5,1029.4 402.1,1020.7 405.7,1035.0 409.3,1029.8 412.9,1029.1 416.5,1029.3 420.1,1035.5 423.8,1013.4 427.4,1020.2 431.0,997.5 434.6,995.6 438.2,1003.4 441.8,946.0 445.4,940.2 449.0,951.4 452.6,946.5 456.2,953.2 459.8,950.5 463.4,944.1 467.0,941.4 470.6,958.4 474.2,964.6 477.8,966.9 481.4,961.1 485.0,961.1 488.6,967.8 492.2,968.2 495.8,963.3 499.4,959.1 503.0,974.3 506.6,994.0 510.2,990.8 513.8,991.3 517.4,999.0 521.0,1022.5 524.6,1017.8 528.2,1029.2 531.8,1017.1 535.4,1006.9 539.0,1001.8 542.7,1022.6 546.3,1022.1 549.9,1007.0 553.5,1016.8 557.1,1014.7 560.7,1018.2 564.3,1030.3 567.9,1037.4 571.5,1028.8 575.1,1031.8 578.7,1016.4 582.3,1028.4 585.9,1028.4 589.5,1012.6 593.1,1012.6 596.7,1020.5 600.3,1042.7 603.9,1065.2 607.5,1071.9 611.1,1060.1 614.7,1067.2 618.3,1044.5 621.9,1040.9 625.5,1034.1 629.1,1040.0 632.7,1026.9 636.3,1018.0 639.9,1006.9 643.5,979.0 647.1,986.7 650.7,987.1 654.3,979.4 657.9,974.2 661.5,973.7 665.2,973.1 668.8,986.2 672.4,984.9 676.0,1013.6 679.6,1030.9 683.2,1018.7 686.8,1024.9 690.4,1014.1 694.0,1003.7 697.6,1016.7 701.2,1021.7 704.8,1036.7 708.4,1051.5 712.0,1061.5 715.6,1077.9 719.2,1088.1 722.8,1076.5 726.4,1083.7 730.0,1041.0 733.6,1046.3 737.2,1041.5 740.8,1044.9 744.4,1029.0 748.0,1032.7 751.6,1034.3 755.2,1041.2 758.8,1034.5 762.4,1034.2 766.0,1035.3 769.6,1031.8 773.2,1037.1 776.8,1028.0 780.4,1029.4 784.1,1002.5 787.7,1003.4 791.3,1009.0 794.9,1019.6 798.5,1045.9 802.1,1030.4 805.7,1033.8 809.3,1035.0 812.9,1035.4 816.5,1042.4 820.1,1026.7 823.7,1037.8 827.3,1037.9 830.9,1046.9 834.5,1059.6 838.1,1047.9 841.7,1042.1 845.3,1033.4 848.9,1031.1 852.5,1037.3 856.1,1027.6 859.7,1017.7 863.3,1023.1 866.9,1037.6 870.5,1040.0 874.1,1024.6 877.7,1019.9 881.3,997.5 884.9,984.8 888.5,979.9 892.1,986.5 895.7,972.7 899.3,973.3 903.0,988.3 906.6,978.0 910.2,972.4 913.8,981.1 917.4,983.8 921.0,993.9 924.6,1024.4 928.2,1034.2 931.8,1036.0 935.4,1022.3 939.0,1021.3 942.6,1016.5 946.2,1021.4 949.8,1014.2 953.4,1029.3 957.0,1019.7 960.6,1007.8 964.2,1005.2 967.8,1009.1 971.4,976.4 975.0,981.7 978.6,976.7 982.2,982.5 985.8,973.9 989.4,973.9 993.0,961.6 996.6,980.6 1000.2,992.2 1003.8,1011.5 1007.4,1006.5 1011.0,1024.4 1014.6,1014.7 1018.2,1011.1 1021.8,997.0 1025.5,982.6 1029.1,985.2 1032.7,1011.4 1036.3,1018.0 1039.9,1019.7 1043.5,1028.0 1047.1,1032.3 1050.7,1018.5 1054.3,973.3 1057.9,954.5 1061.5,948.7 1065.1,936.5 1068.7,931.4 1072.3,923.9 1075.9,943.2 1079.5,959.0 1083.1,974.2 1086.7,968.4 1090.3,965.9 1093.9,975.6 1097.5,965.7 1101.1,980.4 1104.7,983.6 1108.3,957.3 1111.9,959.1 1115.5,953.5 1119.1,965.9 1122.7,958.5 1126.3,971.5 1129.9,949.3 1133.5,958.7 1137.1,954.4 1140.7,948.4 1144.4,947.7 1148.0,969.1 1151.6,965.8 1155.2,950.1 1158.8,952.3 1162.4,940.2 1166.0,945.2 1169.6,944.9 1173.2,997.3 1176.8,994.3 1180.4,976.5 1184.0,968.7 1187.6,970.8 1191.2,978.1 1194.8,971.4 1198.4,967.0 1202.0,985.1 1205.6,1007.7 1209.2,1029.9 1212.8,1022.7 1216.4,1031.5 1220.0,1035.5 1223.6,1017.1 1227.2,1010.3 1230.8,1011.7 1234.4,1025.1 1238.0,1024.9 1241.6,1018.8 1245.2,1023.2 1248.8,1016.9 1252.4,1024.2 1256.0,1018.7 1259.6,1004.7 1263.3,991.0 1266.9,987.4 1270.5,990.4 1274.1,984.9 1277.7,1020.5 1281.3,1031.7 1284.9,1033.3 1288.5,1025.3 1292.1,1026.2 1295.7,1029.7 1299.3,1038.9 1302.9,1026.9 1306.5,1003.8 1310.1,1012.2 1313.7,1000.1 1317.3,1017.4 1320.9,1023.9 1324.5,1010.7 1328.1,1010.4 1331.7,1019.0 1335.3,1009.2 1338.9,1013.5 1342.5,1008.6 1346.1,1020.0 1349.7,1035.4 1353.3,1036.0 1356.9,1024.4 1360.5,1009.0 1364.1,1004.3 1367.7,1025.7 1371.3,1052.7 1374.9,1048.4 1378.5,1055.2 1382.1,1045.7 1385.8,1053.6 1389.4,1059.1 1393.0,1053.1 1396.6,1057.0 1400.2,1046.7 1403.8,1051.8 1407.4,1033.1 1411.0,1036.1 1414.6,1031.5 1418.2,1035.9 1421.8,1036.5 1425.4,1026.9 1429.0,1033.2 1432.6,1023.8 1436.2,1019.5 1439.8,1028.1 1443.4,1011.7 1447.0,1006.5 1450.6,1045.0 1454.2,1055.3 1457.8,1061.1 1461.4,1063.6 1465.0,1068.8 1468.6,1066.1 1472.2,1027.2 1475.8,1051.5 1479.4,1042.0 1483.0,1036.0 1486.6,1040.4 1490.2,1045.1 1493.8,1038.5 1497.4,1051.0 1501.0,1062.9 1504.7,1051.5 1508.3,1056.6 1511.9,1053.7 1515.5,1044.8 1519.1,1044.8 1522.7,1048.4 1526.3,1044.0 1529.9,1041.8 1533.5,1023.9 1537.1,1032.6 1540.7,1031.2 1544.3,1026.2 1547.9,1024.1 1551.5,1010.6 1555.1,1015.7 1558.7,1023.3 1562.3,1024.2 1565.9,1041.6 1569.5,1049.0 1573.1,1050.1 1576.7,1040.0 1580.3,1027.6 1583.9,1042.3 1587.5,1038.0 1591.1,1042.8 1594.7,1043.0 1598.3,1067.4 1601.9,1074.4 1605.5,1074.4 1609.1,1043.4 1612.7,1053.4 1616.3,1042.2 1619.9,1033.3 1623.6,1036.2 1627.2,1028.7 1630.8,1035.6 1634.4,1037.5 1638.0,1033.7 1641.6,1032.9 1645.2,1030.4 1648.8,1035.7 1652.4,1032.7 1656.0,991.5 1659.6,988.5 1663.2,995.5 1666.8,984.9 1670.4,982.4 1674.0,992.1 1677.6,986.9 1681.2,993.3 1684.8,992.6 1688.4,979.2 1692.0,982.5 1695.6,988.9 1699.2,993.2 1702.8,991.5 1706.4,998.2 1710.0,992.1 1713.6,931.0 1717.2,915.8 1720.8,910.3 1724.4,928.1 1728.0,931.7 1731.6,919.0 1735.2,940.5 1738.8,943.1 1742.4,948.2 1746.1,959.4 1749.7,956.9 1753.3,954.5 1756.9,961.9 1760.5,950.7 1764.1,945.4 1767.7,970.8 1771.3,969.1 1774.9,968.7 1778.5,964.2 1782.1,954.7 1785.7,954.3 1789.3,965.1 1792.9,987.3 1796.5,992.6 1800.1,986.7 1803.7,975.4 1807.3,976.8 1810.9,973.2 1814.5,1011.5 1818.1,997.8 1821.7,995.3 1825.3,1000.1 1828.9,974.1 1832.5,960.6 1836.1,970.4 1839.7,992.4 1843.3,1007.7 1846.9,1008.4 1850.5,1002.5 1854.1,1003.3 1857.7,1012.8 1861.3,1004.9 1865.0,1009.9 1868.6,1026.6 1872.2,1043.8 1875.8,1046.0 1879.4,1012.6 1883.0,1008.1 1886.6,1013.0 1890.2,1013.4 1893.8,1009.5 1897.4,1008.9 1901.0,999.0 1904.6,1007.7 1908.2,1013.6 1911.8,982.7 1915.4,985.3 1919.0,1001.6 1922.6,998.1 1926.2,990.6 1929.8,996.3 1933.4,984.0 1937.0,962.4 1940.6,945.2 1944.2,948.0 1947.8,948.3 1951.4,944.4 1955.0,940.2 1958.6,933.5 1962.2,917.7 1965.8,912.2 1969.4,909.2 1973.0,908.4 1976.6,901.5 1980.2,905.1 1983.9,930.2 1987.5,942.0 1991.1,934.5 1994.7,933.0 1998.3,930.0 2001.9,925.9 2005.5,937.4 2009.1,946.7 2012.7,942.8 2016.3,962.2 2019.9,998.8 2023.5,1005.0 2027.1,992.5 2030.7,979.1 2034.3,986.2 2037.9,977.0 2041.5,957.8 2045.1,948.5 2048.7,936.0 2052.3,946.2 2055.9,943.5 2059.5,926.7 2063.1,922.6 2066.7,950.1 2070.3,962.4 2073.9,961.1 2077.5,958.8 2081.1,981.0 2084.7,992.8 2088.3,980.1 2091.9,986.7 2095.5,955.1 2099.1,959.3 2102.7,957.7 2106.4,990.0 2110.0,979.5 2113.6,985.1 2117.2,987.4 2120.8,1002.5 2124.4,995.4 2128.0,991.3 2131.6,1004.5 2135.2,998.2 2138.8,994.6 2142.4,1004.2 2146.0,1005.0 2149.6,1007.1 2153.2,1003.4 2156.8,1000.4 2160.4,1000.2 2164.0,993.1 2167.6,988.1 2171.2,966.6 2174.8,978.2 2178.4,980.7 2182.0,995.2 2185.6,999.4 2189.2,984.4 2192.8,988.3 2196.4,1000.9 2200.0,998.6 2203.6,1004.1 2207.2,1034.9 2210.8,1035.3 2214.4,1038.8 2218.0,1053.0 2221.6,1039.0 2225.3,1041.8 2228.9,1022.3 2232.5,1014.0 2236.1,1018.8 2239.7,996.5 2243.3,982.7 2246.9,982.4 2250.5,984.9 2254.1,975.2 2257.7,967.3 2261.3,994.8 2264.9,990.9 2268.5,1012.6 2272.1,1053.7 2275.7,1049.8 2279.3,1013.0 2282.9,1009.4 2286.5,1023.2 2290.1,1025.2 2293.7,1031.7 2297.3,1032.6 2300.9,1027.5 2304.5,1018.0 2308.1,1021.9 2311.7,1029.3 2315.3,1031.7 2318.9,1021.5 2322.5,1016.7 2326.1,1016.5 2329.7,995.6 2333.3,1000.3 2336.9,1015.7 2340.5,1024.0 2344.2,1027.8 2347.8,1020.4 2351.4,1020.1 2355.0,1019.5 2358.6,1047.4 2362.2,1067.4 2365.8,1048.3 2369.4,1054.4 2373.0,1037.5 2376.6,1041.4 2380.2,1020.4 2383.8,1024.4 2387.4,1027.6" fill="none" stroke="#7e57c2" stroke-width="1.6" stroke-linejoin="round"/>
  <polyline points="-1.4,972.6 2.2,971.9 5.8,971.9 9.4,972.5 13.0,975.5 16.6,979.9 20.2,987.6 23.8,995.6 27.4,1000.1 31.0,1005.1 34.6,1008.6 38.2,1011.4 41.8,1014.6 45.4,1017.9 49.0,1019.7 52.6,1021.0 56.2,1022.3 59.8,1023.9 63.5,1022.5 67.1,1019.0 70.7,1014.5 74.3,1010.3 77.9,1006.1 81.5,1001.9 85.1,997.2 88.7,992.2 92.3,987.9 95.9,981.3 99.5,975.0 103.1,970.6 106.7,965.8 110.3,959.8 113.9,954.2 117.5,949.5 121.1,946.6 124.7,943.3 128.3,942.0 131.9,940.2 135.5,937.9 139.1,936.6 142.7,934.6 146.3,933.1 149.9,933.4 153.5,931.6 157.1,930.4 160.7,929.7 164.3,929.1 167.9,928.6 171.5,926.1 175.1,923.8 178.7,920.5 182.3,917.8 186.0,917.4 189.6,916.7 193.2,917.2 196.8,918.4 200.4,921.0 204.0,925.7 207.6,930.7 211.2,935.5 214.8,941.8 218.4,949.7 222.0,956.6 225.6,964.0 229.2,972.4 232.8,980.5 236.4,986.1 240.0,991.4 243.6,996.3 247.2,1001.8 250.8,1004.1 254.4,1005.1 258.0,1005.1 261.6,1005.0 265.2,1005.3 268.8,1005.2 272.4,1006.3 276.0,1007.1 279.6,1007.1 283.2,1006.7 286.8,1006.7 290.4,1006.2 294.0,1006.7 297.6,1006.3 301.2,1006.6 304.9,1008.8 308.5,1011.9 312.1,1014.5 315.7,1016.1 319.3,1016.7 322.9,1018.1 326.5,1018.8 330.1,1019.6 333.7,1019.9 337.3,1021.0 340.9,1023.0 344.5,1023.4 348.1,1025.0 351.7,1026.1 355.3,1025.2 358.9,1022.0 362.5,1020.0 366.1,1018.7 369.7,1018.7 373.3,1018.7 376.9,1018.5 380.5,1017.1 384.1,1016.4 387.7,1015.7 391.3,1016.2 394.9,1017.5 398.5,1018.2 402.1,1018.4 405.7,1019.5 409.3,1021.6 412.9,1023.7 416.5,1024.7 420.1,1024.7 423.8,1022.9 427.4,1022.4 431.0,1021.4 434.6,1020.5 438.2,1020.2 441.8,1015.0 445.4,1008.9 449.0,1003.4 452.6,998.1 456.2,992.2 459.8,986.6 463.4,980.5 467.0,974.2 470.6,968.7 474.2,965.2 477.8,961.4 481.4,958.8 485.0,956.3 488.6,953.8 492.2,955.4 495.8,957.0 499.4,957.6 503.0,959.6 506.6,962.5 510.2,965.4 513.8,968.7 517.4,972.8 521.0,977.4 524.6,981.2 528.2,985.7 531.8,989.7 535.4,992.9 539.0,995.4 542.7,999.3 546.3,1003.5 549.9,1006.9 553.5,1009.9 557.1,1011.4 560.7,1013.3 564.3,1016.1 567.9,1018.9 571.5,1019.3 575.1,1020.3 578.7,1019.4 582.3,1020.2 585.9,1021.8 589.5,1022.5 593.1,1021.8 596.7,1021.7 600.3,1024.3 603.9,1027.7 607.5,1031.8 611.1,1034.8 614.7,1037.4 618.3,1037.9 621.9,1038.8 625.5,1039.0 629.1,1040.6 632.7,1040.5 636.3,1039.8 639.9,1039.4 643.5,1037.0 647.1,1034.6 650.7,1030.6 654.3,1024.5 657.9,1017.5 661.5,1011.3 665.2,1004.6 668.8,1000.4 672.4,996.4 676.0,995.0 679.6,994.3 683.2,993.7 686.8,994.2 690.4,994.7 694.0,996.5 697.6,998.6 701.2,1001.1 704.8,1005.2 708.4,1010.7 712.0,1017.0 715.6,1024.5 719.2,1031.8 722.8,1038.3 726.4,1043.3 730.0,1044.0 733.6,1046.0 737.2,1047.2 740.8,1049.4 744.4,1051.2 748.0,1052.3 751.6,1053.3 755.2,1053.6 758.8,1052.3 762.4,1050.4 766.0,1047.4 769.6,1043.3 773.2,1040.5 776.8,1036.6 780.4,1035.7 784.1,1032.6 787.7,1029.9 791.3,1027.3 794.9,1026.6 798.5,1027.6 802.1,1027.3 805.7,1026.8 809.3,1026.8 812.9,1026.9 816.5,1027.4 820.1,1027.1 823.7,1027.1 827.3,1027.8 830.9,1029.1 834.5,1033.1 838.1,1036.3 841.7,1038.7 845.3,1039.7 848.9,1038.6 852.5,1039.1 856.1,1038.7 859.7,1037.4 863.3,1036.5 866.9,1036.2 870.5,1037.1 874.1,1036.2 877.7,1034.9 881.3,1031.4 884.9,1026.0 888.5,1021.2 892.1,1017.2 895.7,1012.9 899.3,1008.7 903.0,1005.2 906.6,1001.7 910.2,998.5 913.8,995.5 917.4,991.6 921.0,988.3 924.6,988.3 928.2,989.3 931.8,992.1 935.4,994.8 939.0,997.7 942.6,999.9 946.2,1003.4 949.8,1006.3 953.4,1009.2 957.0,1012.2 960.6,1014.7 964.2,1016.4 967.8,1018.2 971.4,1017.0 975.0,1013.9 978.6,1009.8 982.2,1006.0 985.8,1002.5 989.4,999.2 993.0,995.2 996.6,992.3 1000.2,990.8 1003.8,989.5 1007.4,988.5 1011.0,989.7 1014.6,990.4 1018.2,990.5 1021.8,992.0 1025.5,992.1 1029.1,992.7 1032.7,994.8 1036.3,997.9 1039.9,1001.2 1043.5,1005.9 1047.1,1009.6 1050.7,1011.5 1054.3,1008.8 1057.9,1005.0 1061.5,999.6 1065.1,994.0 1068.7,988.4 1072.3,983.1 1075.9,980.3 1079.5,978.4 1083.1,975.8 1086.7,972.3 1090.3,968.4 1093.9,964.7 1097.5,959.9 1101.1,957.2 1104.7,957.9 1108.3,958.1 1111.9,958.9 1115.5,960.1 1119.1,962.6 1122.7,965.0 1126.3,967.0 1129.9,966.4 1133.5,965.2 1137.1,964.2 1140.7,963.0 1144.4,961.0 1148.0,961.3 1151.6,960.2 1155.2,957.8 1158.8,957.5 1162.4,956.1 1166.0,955.5 1169.6,954.0 1173.2,956.8 1176.8,958.4 1180.4,960.4 1184.0,961.1 1187.6,962.2 1191.2,964.4 1194.8,966.1 1198.4,965.9 1202.0,967.3 1205.6,971.4 1209.2,976.9 1212.8,982.8 1216.4,989.0 1220.0,995.5 1223.6,996.9 1227.2,998.0 1230.8,1000.5 1234.4,1004.6 1238.0,1008.4 1241.6,1011.3 1245.2,1015.0 1248.8,1018.6 1252.4,1021.4 1256.0,1022.2 1259.6,1020.4 1263.3,1018.1 1266.9,1015.0 1270.5,1011.7 1274.1,1009.4 1277.7,1010.2 1281.3,1011.6 1284.9,1012.2 1288.5,1012.2 1292.1,1012.7 1295.7,1013.2 1299.3,1014.8 1302.9,1015.0 1306.5,1013.9 1310.1,1014.4 1313.7,1015.1 1317.3,1017.2 1320.9,1019.6 1324.5,1021.5 1328.1,1020.7 1331.7,1019.8 1335.3,1018.1 1338.9,1017.3 1342.5,1016.0 1346.1,1015.3 1349.7,1015.1 1353.3,1015.7 1356.9,1017.2 1360.5,1017.0 1364.1,1017.3 1367.7,1017.9 1371.3,1019.9 1374.9,1022.6 1378.5,1025.8 1382.1,1027.7 1385.8,1030.9 1389.4,1034.2 1393.0,1037.3 1396.6,1040.0 1400.2,1040.8 1403.8,1041.9 1407.4,1042.5 1411.0,1044.5 1414.6,1046.4 1418.2,1047.1 1421.8,1046.0 1425.4,1044.4 1429.0,1042.9 1432.6,1041.3 1436.2,1038.9 1439.8,1036.7 1443.4,1033.7 1447.0,1030.1 1450.6,1030.0 1454.2,1030.2 1457.8,1032.2 1461.4,1034.2 1465.0,1036.9 1468.6,1039.0 1472.2,1038.3 1475.8,1040.1 1479.4,1040.7 1483.0,1041.6 1486.6,1043.1 1490.2,1044.3 1493.8,1046.2 1497.4,1049.4 1501.0,1050.7 1504.7,1050.4 1508.3,1050.1 1511.9,1049.4 1515.5,1047.7 1519.1,1046.2 1522.7,1047.7 1526.3,1047.1 1529.9,1047.1 1533.5,1046.3 1537.1,1045.7 1540.7,1044.7 1544.3,1043.8 1547.9,1041.9 1551.5,1038.2 1555.1,1035.6 1558.7,1033.2 1562.3,1031.1 1565.9,1030.9 1569.5,1031.2 1573.1,1031.3 1576.7,1031.0 1580.3,1030.0 1583.9,1031.3 1587.5,1031.7 1591.1,1032.5 1594.7,1033.7 1598.3,1036.8 1601.9,1041.4 1605.5,1045.6 1609.1,1047.0 1612.7,1049.1 1616.3,1049.1 1619.9,1048.0 1623.6,1047.0 1627.2,1046.2 1630.8,1046.8 1634.4,1046.5 1638.0,1046.1 1641.6,1045.4 1645.2,1044.5 1648.8,1042.3 1652.4,1039.3 1656.0,1033.4 1659.6,1029.4 1663.2,1025.3 1666.8,1021.2 1670.4,1017.6 1674.0,1014.4 1677.6,1011.4 1681.2,1008.4 1684.8,1005.2 1688.4,1001.3 1692.0,997.7 1695.6,994.8 1699.2,991.7 1702.8,988.8 1706.4,989.3 1710.0,989.5 1713.6,984.9 1717.2,980.0 1720.8,974.8 1724.4,970.3 1728.0,966.3 1731.6,961.0 1735.2,957.3 1738.8,954.7 1742.4,952.3 1746.1,950.2 1749.7,947.6 1753.3,944.9 1756.9,942.3 1760.5,939.4 1764.1,940.4 1767.7,944.3 1771.3,948.5 1774.9,951.4 1778.5,953.7 1782.1,956.3 1785.7,957.3 1789.3,958.8 1792.9,961.6 1796.5,964.0 1800.1,966.1 1803.7,967.6 1807.3,968.7 1810.9,970.3 1814.5,975.0 1818.1,976.9 1821.7,978.8 1825.3,981.1 1828.9,981.8 1832.5,982.2 1836.1,983.3 1839.7,985.3 1843.3,986.7 1846.9,987.9 1850.5,989.0 1854.1,991.0 1857.7,993.6 1861.3,995.8 1865.0,995.7 1868.6,997.8 1872.2,1001.2 1875.8,1004.5 1879.4,1007.3 1883.0,1010.7 1886.6,1013.7 1890.2,1015.2 1893.8,1015.3 1897.4,1015.4 1901.0,1015.1 1904.6,1015.4 1908.2,1015.5 1911.8,1013.9 1915.4,1012.1 1919.0,1010.4 1922.6,1007.1 1926.2,1003.1 1929.8,1002.0 1933.4,1000.3 1937.0,996.6 1940.6,991.8 1944.2,987.4 1947.8,983.1 1951.4,979.2 1955.0,974.3 1958.6,968.6 1962.2,964.0 1965.8,958.8 1969.4,952.2 1973.0,945.7 1976.6,939.4 1980.2,932.9 1983.9,929.0 1987.5,927.6 1991.1,926.8 1994.7,925.7 1998.3,924.4 2001.9,923.1 2005.5,922.9 2009.1,923.9 2012.7,925.7 2016.3,929.2 2019.9,935.6 2023.5,942.5 2027.1,949.0 2030.7,954.3 2034.3,958.3 2037.9,960.8 2041.5,962.5 2045.1,963.6 2048.7,964.0 2052.3,965.4 2055.9,965.9 2059.5,964.5 2063.1,963.0 2066.7,962.2 2070.3,959.6 2073.9,956.4 2077.5,954.0 2081.1,954.1 2084.7,954.6 2088.3,954.8 2091.9,956.9 2095.5,957.4 2099.1,959.0 2102.7,959.9 2106.4,963.2 2110.0,966.9 2113.6,971.4 2117.2,974.1 2120.8,976.9 2124.4,979.4 2128.0,981.7 2131.6,983.4 2135.2,983.8 2138.8,984.8 2142.4,986.0 2146.0,989.6 2149.6,993.0 2153.2,996.3 2156.8,997.0 2160.4,998.5 2164.0,999.1 2167.6,999.1 2171.2,996.6 2174.8,995.3 2178.4,994.6 2182.0,993.9 2185.6,994.0 2189.2,993.3 2192.8,992.2 2196.4,991.9 2200.0,991.3 2203.6,991.3 2207.2,993.8 2210.8,996.3 2214.4,999.5 2218.0,1004.2 2221.6,1009.3 2225.3,1013.9 2228.9,1016.9 2232.5,1018.2 2236.1,1019.6 2239.7,1020.4 2243.3,1020.0 2246.9,1018.7 2250.5,1017.7 2254.1,1015.7 2257.7,1010.8 2261.3,1008.0 2264.9,1004.5 2268.5,1001.7 2272.1,1002.7 2275.7,1003.3 2279.3,1002.6 2282.9,1002.3 2286.5,1002.6 2290.1,1004.7 2293.7,1008.1 2297.3,1011.7 2300.9,1014.8 2304.5,1017.8 2308.1,1021.7 2311.7,1024.2 2315.3,1027.1 2318.9,1027.7 2322.5,1025.1 2326.1,1022.7 2329.7,1021.5 2333.3,1020.8 2336.9,1020.3 2340.5,1020.2 2344.2,1019.9 2347.8,1019.1 2351.4,1018.5 2355.0,1018.6 2358.6,1020.5 2362.2,1023.2 2365.8,1024.4 2369.4,1026.7 2373.0,1028.2 2376.6,1030.0 2380.2,1031.8 2383.8,1033.5 2387.4,1034.3" fill="none" stroke="#f2cf48" stroke-width="1.6" stroke-linejoin="round"/>
  <!-- separators -->
  <rect x="0" y="643" width="2560" height="2" fill="#dcdcdc"/>
  <rect x="0" y="875" width="2560" height="2" fill="#dcdcdc"/>
  <rect x="0" y="1161" width="2560" height="2" fill="#dcdcdc"/>

  <!-- header icons -->
  <circle cx="35" cy="22.7" r="11" fill="#3e9088"/>
  <path d="M29.6 18.2H39.9L42.3 22.1L35.8 29.5L27.2 22.1Z" fill="#fff"/><rect x="32" y="18.9" width="5.3" height="1.3" fill="#3e9088"/><rect x="34.1" y="19.8" width="1.5" height="3.2" fill="#3e9088"/>
  <circle cx="23" cy="34.6" r="13.6" fill="#000"/>
  <circle cx="23" cy="34.6" r="11.6" fill="#4a519a"/>
  <path d="M11.4 34.6a11.6 11.6 0 0 1 23.2 0z" fill="#2f3f9a"/>
  <path d="M23 26.8L17.9 34.6L23 42.1L28.1 34.6Z" fill="#c9d0f7"/>
  <path d="M23.6 30.8L26.2 34.8L23.6 37.6Z" fill="#6a72c8"/>
  <path d="M22.4 31.2L20.2 34.8L22.4 36.8Z" fill="#a7b0ee"/>
  <circle cx="573.4" cy="28.7" r="17" fill="#0b251d"/>
  <circle cx="573.4" cy="28.7" r="7.8" fill="#41a083"/>

  <!-- sell/buy boxes -->
  <rect x="10.8" y="60.7" width="146.8" height="63.2" rx="9" fill="#0e0e0e" stroke="#d9474e" stroke-width="2"/>
  <rect x="233.2" y="60.7" width="146.1" height="63.1" rx="9" fill="#0e0e0e" stroke="#3a68f2" stroke-width="2"/>
  <!-- USDT -->
  <rect x="2434.1" y="6.7" width="120.8" height="48.1" rx="8" fill="#0e0e0e" stroke="#4f4f4f" stroke-width="2"/>
  <path d="M2536.6 29l5 4.6 5-4.6" stroke="#d6d6d6" stroke-width="2.2" fill="none"/>
  <text x="2443.90" y="92.70" font-size="23.98" letter-spacing="0.871" fill="#e2e2e2">4,800.00</text>
<text x="2443.90" y="151.50" font-size="23.98" letter-spacing="0.871" fill="#e2e2e2">4,400.00</text>
<text x="2443.90" y="210.30" font-size="23.98" letter-spacing="0.871" fill="#e2e2e2">4,000.00</text>
<text x="2443.90" y="269.30" font-size="23.98" letter-spacing="0.871" fill="#e2e2e2">3,600.00</text>
<text x="2443.90" y="328.20" font-size="23.98" letter-spacing="0.871" fill="#e2e2e2">3,200.00</text>
<text x="2443.90" y="387.20" font-size="23.98" letter-spacing="0.871" fill="#e2e2e2">2,800.00</text>
<text x="2443.90" y="446.10" font-size="23.98" letter-spacing="0.871" fill="#e2e2e2">2,400.00</text>
<text x="2443.90" y="505.10" font-size="23.98" letter-spacing="0.871" fill="#e2e2e2">2,000.00</text>
<text x="2443.90" y="564.00" font-size="23.98" letter-spacing="0.871" fill="#e2e2e2">1,600.00</text>
<text x="2443.90" y="622.90" font-size="23.98" letter-spacing="0.871" fill="#e2e2e2">1,200.00</text>
<text x="2443.90" y="717.60" font-size="23.98" letter-spacing="0.871" fill="#e2e2e2">200.00</text>
<text x="2443.90" y="943.40" font-size="23.98" letter-spacing="0.871" fill="#e2e2e2">75.00</text>
<text x="2443.90" y="1012.80" font-size="23.98" letter-spacing="0.871" fill="#e2e2e2">50.00</text>
<text x="2443.90" y="1082.30" font-size="23.98" letter-spacing="0.871" fill="#e2e2e2">25.00</text>
  <!-- price label -->
  <path d="M2427.1 263.1H2551.2a3 3 0 0 1 3 3V319.4a3 3 0 0 1-3 3H2427.1z" fill="#de4850"/>
  <!-- lightning -->
  <circle cx="2387.7" cy="618.9" r="18.8" fill="#111" stroke="#a54bc3" stroke-width="2.8"/>
  <path transform="translate(2365.7 596.9)" d="M26.8 12.2L28.4 13.5L23.7 20.4L30.7 21.2L17.8 32.1L16.0 31.3L21.4 23.3L13.6 22.8Z" fill="#a54bc3"/>
  <!-- MACD label boxes -->
  <path d="M2427 764.3H2514.5a3 3 0 0 1 3 3V793.9a3 3 0 0 1-3 3H2427z" fill="#f6ced3"/>
  <path d="M2427 816.6H2543.4a3 3 0 0 1 3 3V846a3 3 0 0 1-3 3H2427z" fill="#ec7630"/>
  <path d="M2427 849.8H2543.4a3 3 0 0 1 3 3V875H2427z" fill="#3c64f5"/>
  <!-- RSI label boxes -->
  <path d="M2427 1012.8H2514.7a3 3 0 0 1 3 3V1042a3 3 0 0 1-3 3H2427z" fill="#7a56be"/>
  <path d="M2427 1046H2514.7a3 3 0 0 1 3 3V1074.9a3 3 0 0 1-3 3H2427z" fill="#f5d555"/>

  <text x="53.50" y="40.50" font-size="30.23" letter-spacing="0.159" fill="#ececec">Ethereum / TetherUS · 1D · Binance</text>
<text x="607.05" y="38.80" font-size="26.02" letter-spacing="0.000" fill="#e6e6e6">O</text>
<text x="628.40" y="38.80" font-size="26.02" letter-spacing="0.736" fill="#e14b50">3,567.85</text>
<text x="747.40" y="38.80" font-size="26.02" letter-spacing="0.000" fill="#e6e6e6">H</text>
<text x="768.90" y="38.80" font-size="26.02" letter-spacing="0.800" fill="#e14b50">3,648.27</text>
<text x="888.00" y="38.80" font-size="26.02" letter-spacing="0.000" fill="#e6e6e6">L</text>
<text x="904.20" y="38.80" font-size="26.02" letter-spacing="0.893" fill="#e14b50">3,487.88</text>
<text x="1023.65" y="38.80" font-size="26.02" letter-spacing="0.000" fill="#e6e6e6">C</text>
<text x="1044.00" y="38.80" font-size="26.02" letter-spacing="0.671" fill="#e14b50">3,491.57</text>
<text x="1163.65" y="38.80" font-size="26.02" letter-spacing="0.639" fill="#e14b50">−76.28 (−2.14%)</text>
<text x="31.70" y="87.80" font-size="23.69" letter-spacing="1.771" fill="#e14b50" stroke="#e14b50" stroke-width="0.7">3,491.80</text>
<text x="57.20" y="114.00" font-size="22.53" letter-spacing="-0.817" fill="#e14b50">SELL</text>
<text x="174.25" y="99.30" font-size="20.20" letter-spacing="0.183" fill="#cfcfcf">0.01</text>
<text x="254.00" y="87.80" font-size="23.69" letter-spacing="1.421" fill="#3c69f5" stroke="#3c69f5" stroke-width="0.7">3,491.81</text>
<text x="282.95" y="113.80" font-size="22.24" letter-spacing="-0.450" fill="#3c69f5">BUY</text>
<text x="2440.35" y="39.60" font-size="24.13" letter-spacing="-1.283" fill="#dcdadc">USDT</text>
<text x="2443.45" y="286.00" font-size="23.98" letter-spacing="0.900" fill="#ffffff">3,491.57</text>
<text x="2443.45" y="312.70" font-size="23.40" letter-spacing="1.150" fill="#f7d9db">09:09:33</text>
<text x="11.10" y="685.40" font-size="25.00" letter-spacing="0.723" fill="#ececec">MACD 12 26 close</text>
<text x="245.65" y="685.40" font-size="25.00" letter-spacing="1.538" fill="#f4cdd0">−5.46</text>
<text x="326.75" y="685.40" font-size="25.00" letter-spacing="1.500" fill="#3d6af5">−158.88</text>
<text x="439.35" y="685.40" font-size="25.00" letter-spacing="1.575" fill="#ee7a30">−153.42</text>
<text x="11.30" y="917.20" font-size="25.00" letter-spacing="0.264" fill="#ececec">RSI 14 close</text>
<text x="173.50" y="917.20" font-size="25.00" letter-spacing="1.175" fill="#7e57c2">41.12</text>
<text x="254.00" y="917.20" font-size="25.00" letter-spacing="1.562" fill="#f0d050">39.60</text>
<text x="2442.70" y="788.10" font-size="23.11" letter-spacing="1.562" fill="#131313">−5.46</text>
<text x="2442.70" y="840.00" font-size="23.11" letter-spacing="1.558" fill="#ffffff">−153.42</text>
<text x="2442.70" y="873.00" font-size="23.11" letter-spacing="1.592" fill="#ffffff">−158.88</text>
<text x="2442.90" y="1037.70" font-size="23.11" letter-spacing="1.725" fill="#ffffff">41.12</text>
<text x="2442.65" y="1069.90" font-size="23.11" letter-spacing="1.725" fill="#131313">39.60</text>
  <text x="27.66" y="1143.8" font-size="24.15" letter-spacing="0" fill="#e4e4e4">Feb</text>
<text x="131.78" y="1143.8" font-size="24.15" letter-spacing="0" fill="#e4e4e4">Mar</text>
<text x="246.47" y="1143.8" font-size="24.15" letter-spacing="0" fill="#e4e4e4">Apr</text>
<text x="349.43" y="1143.8" font-size="24.15" letter-spacing="0" fill="#e4e4e4">May</text>
<text x="466.13" y="1143.8" font-size="24.15" letter-spacing="0" fill="#e4e4e4">Jun</text>
<text x="578.34" y="1143.8" font-size="24.15" letter-spacing="0" fill="#e4e4e4">Jul</text>
<text x="683.91" y="1143.8" font-size="24.15" letter-spacing="0" fill="#e4e4e4">Aug</text>
<text x="794.85" y="1143.8" font-size="24.15" letter-spacing="0" fill="#e4e4e4">Sep</text>
<text x="905.32" y="1143.8" font-size="24.15" letter-spacing="0" fill="#e4e4e4">Oct</text>
<text x="1013.76" y="1143.8" font-size="24.15" letter-spacing="0" fill="#e4e4e4">Nov</text>
<text x="1122.10" y="1143.8" font-size="24.15" letter-spacing="0" fill="#e4e4e4">Dec</text>
<text x="1228.67" y="1143.8" font-size="24.44" letter-spacing="0" fill="#e4e4e4" font-weight="bold">2025</text>
<text x="1346.36" y="1143.8" font-size="24.15" letter-spacing="0" fill="#e4e4e4">Feb</text>
<text x="1446.87" y="1143.8" font-size="24.15" letter-spacing="0" fill="#e4e4e4">Mar</text>
<text x="1561.56" y="1143.8" font-size="24.15" letter-spacing="0" fill="#e4e4e4">Apr</text>
<text x="1664.53" y="1143.8" font-size="24.15" letter-spacing="0" fill="#e4e4e4">May</text>
<text x="1781.22" y="1143.8" font-size="24.15" letter-spacing="0" fill="#e4e4e4">Jun</text>
<text x="1893.44" y="1143.8" font-size="24.15" letter-spacing="0" fill="#e4e4e4">Jul</text>
<text x="1999.01" y="1143.8" font-size="24.15" letter-spacing="0" fill="#e4e4e4">Aug</text>
<text x="2109.95" y="1143.8" font-size="24.15" letter-spacing="0" fill="#e4e4e4">Sep</text>
<text x="2220.41" y="1143.8" font-size="24.15" letter-spacing="0" fill="#e4e4e4">Oct</text>
<text x="2328.86" y="1143.8" font-size="24.15" letter-spacing="0" fill="#e4e4e4">Nov</text>

  <!-- TradingView logo -->
  <g stroke="#1a1a1a" stroke-width="6" stroke-linejoin="round" paint-order="stroke" fill="#dcdcdc">
    <path d="M17.25 1051.25H40.6V1080H28.75V1063.1H17.25Z"/>
    <circle cx="50" cy="1056.9" r="5.6"/>
    <path d="M58.75 1051.25H74.4L65.6 1080H50Z"/>
    <text x="88.25" y="1080" font-size="41.79" letter-spacing="-1.59" font-weight="bold">TradingView</text>
  </g>
  <!-- settings icon -->
  <g transform="translate(2479 1119)" fill="none" stroke="#d8d8d8" stroke-width="2">
    <path d="M9.3 4.5H23.7L29.9 15.8L23.7 27.8H9.3L2.8 15.8Z"/>
    <circle cx="16.5" cy="16.2" r="4.2"/>
  </g>
</svg>
</body></html>
